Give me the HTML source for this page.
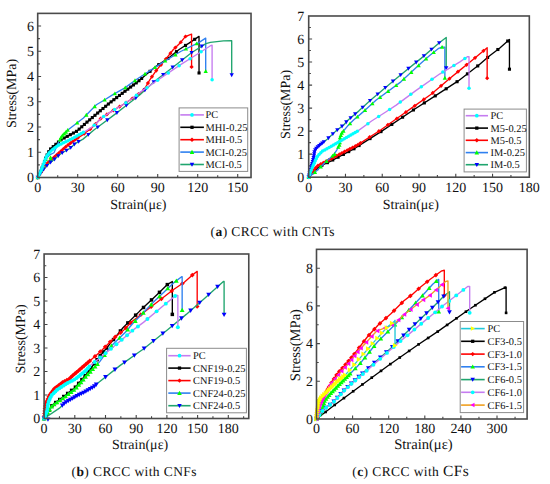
<!DOCTYPE html>
<html><head><meta charset="utf-8"><style>
html,body{margin:0;padding:0;background:#fff;}
svg{display:block;}
text{font-family:"Liberation Serif", serif;fill:#111;text-rendering:geometricPrecision;}
</style></head><body>
<svg width="550" height="484" viewBox="0 0 550 484">
<rect width="550" height="484" fill="#fff"/>
<path d="M57.70 177.50V175.30 M77.70 177.50V174.10 M97.70 177.50V175.30 M117.70 177.50V174.10 M137.70 177.50V175.30 M157.70 177.50V174.10 M177.70 177.50V175.30 M197.70 177.50V174.10 M217.70 177.50V175.30 M237.70 177.50V174.10 M37.70 164.88H39.90 M37.70 152.25H41.10 M37.70 139.62H39.90 M37.70 127.00H41.10 M37.70 114.38H39.90 M37.70 101.75H41.10 M37.70 89.12H39.90 M37.70 76.50H41.10 M37.70 63.88H39.90 M37.70 51.25H41.10 M37.70 38.62H39.90 M37.70 26.00H41.10" stroke="#444" stroke-width="1.1" fill="none"/>
<path d="M327.08 177.20V175.00 M345.47 177.20V173.80 M363.86 177.20V175.00 M382.24 177.20V173.80 M400.62 177.20V175.00 M419.01 177.20V173.80 M437.39 177.20V175.00 M455.78 177.20V173.80 M474.16 177.20V175.00 M492.55 177.20V173.80 M510.94 177.20V175.00 M308.70 165.69H310.90 M308.70 154.17H312.10 M308.70 142.65H310.90 M308.70 131.14H312.10 M308.70 119.62H310.90 M308.70 108.11H312.10 M308.70 96.59H310.90 M308.70 85.08H312.10 M308.70 73.56H310.90 M308.70 62.05H312.10 M308.70 50.53H310.90 M308.70 39.02H312.10 M308.70 27.50H310.90" stroke="#444" stroke-width="1.1" fill="none"/>
<path d="M59.45 418.50V416.30 M74.80 418.50V415.10 M90.15 418.50V416.30 M105.50 418.50V415.10 M120.85 418.50V416.30 M136.20 418.50V415.10 M151.55 418.50V416.30 M166.90 418.50V415.10 M182.25 418.50V416.30 M197.60 418.50V415.10 M212.95 418.50V416.30 M228.30 418.50V415.10 M243.65 418.50V416.30 M44.10 406.75H46.30 M44.10 395.00H47.50 M44.10 383.25H46.30 M44.10 371.50H47.50 M44.10 359.75H46.30 M44.10 348.00H47.50 M44.10 336.25H46.30 M44.10 324.50H47.50 M44.10 312.75H46.30 M44.10 301.00H47.50 M44.10 289.25H46.30 M44.10 277.50H47.50 M44.10 265.75H46.30" stroke="#444" stroke-width="1.1" fill="none"/>
<path d="M334.55 419.00V416.80 M352.60 419.00V415.60 M370.65 419.00V416.80 M388.70 419.00V415.60 M406.75 419.00V416.80 M424.81 419.00V415.60 M442.86 419.00V416.80 M460.91 419.00V415.60 M478.96 419.00V416.80 M497.01 419.00V415.60 M515.06 419.00V416.80 M316.50 400.15H318.70 M316.50 381.30H319.90 M316.50 362.45H318.70 M316.50 343.60H319.90 M316.50 324.75H318.70 M316.50 305.90H319.90 M316.50 287.05H318.70 M316.50 268.20H319.90" stroke="#444" stroke-width="1.1" fill="none"/>
<path d="M37.70 177.50 L40.37 172.45 L43.03 165.63 L45.97 157.30 L49.70 149.72 L61.17 139.62 L77.03 131.04 L87.17 121.95 L100.23 110.84 L109.57 103.01 L126.10 90.39 L137.70 81.80 L154.63 67.41 L169.57 57.31 L178.77 49.74 L189.03 43.17 L199.03 36.35 L199.03 72.97" fill="none" stroke="#000" stroke-width="1.35" stroke-linejoin="round"/>
<rect x="36.15" y="175.95" width="3.10" height="3.10" fill="#000"/>
<rect x="37.78" y="172.86" width="3.10" height="3.10" fill="#000"/>
<rect x="39.29" y="169.70" width="3.10" height="3.10" fill="#000"/>
<rect x="40.56" y="166.44" width="3.10" height="3.10" fill="#000"/>
<rect x="41.80" y="163.17" width="3.10" height="3.10" fill="#000"/>
<rect x="42.97" y="159.87" width="3.10" height="3.10" fill="#000"/>
<rect x="44.13" y="156.57" width="3.10" height="3.10" fill="#000"/>
<rect x="45.58" y="153.39" width="3.10" height="3.10" fill="#000"/>
<rect x="47.13" y="150.25" width="3.10" height="3.10" fill="#000"/>
<rect x="49.04" y="147.39" width="3.10" height="3.10" fill="#000"/>
<rect x="51.67" y="145.08" width="3.10" height="3.10" fill="#000"/>
<rect x="54.30" y="142.76" width="3.10" height="3.10" fill="#000"/>
<rect x="56.92" y="140.45" width="3.10" height="3.10" fill="#000"/>
<rect x="59.55" y="138.13" width="3.10" height="3.10" fill="#000"/>
<rect x="62.62" y="136.45" width="3.10" height="3.10" fill="#000"/>
<rect x="65.69" y="134.79" width="3.10" height="3.10" fill="#000"/>
<rect x="68.77" y="133.12" width="3.10" height="3.10" fill="#000"/>
<rect x="71.85" y="131.46" width="3.10" height="3.10" fill="#000"/>
<rect x="74.93" y="129.79" width="3.10" height="3.10" fill="#000"/>
<rect x="77.62" y="127.57" width="3.10" height="3.10" fill="#000"/>
<rect x="80.22" y="125.24" width="3.10" height="3.10" fill="#000"/>
<rect x="82.83" y="122.90" width="3.10" height="3.10" fill="#000"/>
<rect x="85.44" y="120.56" width="3.10" height="3.10" fill="#000"/>
<rect x="88.10" y="118.29" width="3.10" height="3.10" fill="#000"/>
<rect x="90.76" y="116.02" width="3.10" height="3.10" fill="#000"/>
<rect x="93.43" y="113.76" width="3.10" height="3.10" fill="#000"/>
<rect x="96.10" y="111.49" width="3.10" height="3.10" fill="#000"/>
<rect x="98.76" y="109.22" width="3.10" height="3.10" fill="#000"/>
<rect x="101.45" y="106.97" width="3.10" height="3.10" fill="#000"/>
<rect x="104.13" y="104.72" width="3.10" height="3.10" fill="#000"/>
<rect x="106.81" y="102.48" width="3.10" height="3.10" fill="#000"/>
<rect x="109.55" y="100.30" width="3.10" height="3.10" fill="#000"/>
<rect x="112.33" y="98.17" width="3.10" height="3.10" fill="#000"/>
<rect x="115.11" y="96.05" width="3.10" height="3.10" fill="#000"/>
<rect x="117.89" y="93.92" width="3.10" height="3.10" fill="#000"/>
<rect x="120.67" y="91.80" width="3.10" height="3.10" fill="#000"/>
<rect x="123.45" y="89.67" width="3.10" height="3.10" fill="#000"/>
<rect x="126.25" y="87.58" width="3.10" height="3.10" fill="#000"/>
<rect x="129.07" y="85.49" width="3.10" height="3.10" fill="#000"/>
<rect x="131.88" y="83.41" width="3.10" height="3.10" fill="#000"/>
<rect x="134.69" y="81.33" width="3.10" height="3.10" fill="#000"/>
<rect x="137.44" y="79.16" width="3.10" height="3.10" fill="#000"/>
<rect x="140.10" y="76.89" width="3.10" height="3.10" fill="#000"/>
<rect x="148.49" y="69.77" width="3.10" height="3.10" fill="#000"/>
<rect x="157.20" y="63.08" width="3.10" height="3.10" fill="#000"/>
<rect x="166.31" y="56.92" width="3.10" height="3.10" fill="#000"/>
<rect x="174.92" y="50.08" width="3.10" height="3.10" fill="#000"/>
<rect x="183.97" y="43.86" width="3.10" height="3.10" fill="#000"/>
<rect x="193.13" y="37.77" width="3.10" height="3.10" fill="#000"/>
<rect x="197.48" y="71.42" width="3.10" height="3.10" fill="#000"/>
<path d="M37.70 177.50 L41.70 171.19 L46.90 163.61 L56.90 154.78 L66.77 145.94 L74.77 139.88 L83.03 134.57 L91.43 128.26 L101.30 117.91 L114.50 109.58 L122.77 104.78 L132.77 98.22 L143.57 90.64 L149.97 79.53 L156.50 70.19 L165.83 59.08 L173.17 49.74 L180.63 42.41 L185.30 36.60 L191.57 34.08 L191.57 66.91" fill="none" stroke="#ff0000" stroke-width="1.35" stroke-linejoin="round"/>
<path d="M37.70 175.40L39.80 177.50L37.70 179.60L35.60 177.50Z" fill="#ff0000"/>
<path d="M39.31 172.87L41.41 174.97L39.31 177.07L37.21 174.97Z" fill="#ff0000"/>
<path d="M40.91 170.33L43.01 172.43L40.91 174.53L38.81 172.43Z" fill="#ff0000"/>
<path d="M42.56 167.83L44.66 169.93L42.56 172.03L40.46 169.93Z" fill="#ff0000"/>
<path d="M44.26 165.36L46.36 167.46L44.26 169.56L42.16 167.46Z" fill="#ff0000"/>
<path d="M45.96 162.88L48.06 164.98L45.96 167.08L43.86 164.98Z" fill="#ff0000"/>
<path d="M47.90 160.63L50.00 162.73L47.90 164.83L45.80 162.73Z" fill="#ff0000"/>
<path d="M50.15 158.64L52.25 160.74L50.15 162.84L48.05 160.74Z" fill="#ff0000"/>
<path d="M52.40 156.65L54.50 158.75L52.40 160.85L50.30 158.75Z" fill="#ff0000"/>
<path d="M54.65 154.67L56.75 156.77L54.65 158.87L52.55 156.77Z" fill="#ff0000"/>
<path d="M56.90 152.68L59.00 154.78L56.90 156.88L54.80 154.78Z" fill="#ff0000"/>
<path d="M59.13 150.68L61.23 152.78L59.13 154.88L57.03 152.78Z" fill="#ff0000"/>
<path d="M61.36 148.68L63.46 150.78L61.36 152.88L59.26 150.78Z" fill="#ff0000"/>
<path d="M63.60 146.67L65.70 148.77L63.60 150.87L61.50 148.77Z" fill="#ff0000"/>
<path d="M65.83 144.67L67.93 146.77L65.83 148.87L63.73 146.77Z" fill="#ff0000"/>
<path d="M68.16 142.78L70.26 144.88L68.16 146.98L66.06 144.88Z" fill="#ff0000"/>
<path d="M70.55 140.97L72.65 143.07L70.55 145.17L68.45 143.07Z" fill="#ff0000"/>
<path d="M72.94 139.16L75.04 141.26L72.94 143.36L70.84 141.26Z" fill="#ff0000"/>
<path d="M75.37 137.39L77.47 139.49L75.37 141.59L73.27 139.49Z" fill="#ff0000"/>
<path d="M77.89 135.77L79.99 137.87L77.89 139.97L75.79 137.87Z" fill="#ff0000"/>
<path d="M84.14 131.64L86.24 133.74L84.14 135.84L82.04 133.74Z" fill="#ff0000"/>
<path d="M90.14 127.13L92.24 129.23L90.14 131.33L88.04 129.23Z" fill="#ff0000"/>
<path d="M95.49 121.90L97.59 124.00L95.49 126.10L93.39 124.00Z" fill="#ff0000"/>
<path d="M100.67 116.47L102.77 118.57L100.67 120.67L98.57 118.57Z" fill="#ff0000"/>
<path d="M106.87 112.30L108.97 114.40L106.87 116.50L104.77 114.40Z" fill="#ff0000"/>
<path d="M113.21 108.29L115.31 110.39L113.21 112.49L111.11 110.39Z" fill="#ff0000"/>
<path d="M119.66 104.48L121.76 106.58L119.66 108.68L117.56 106.58Z" fill="#ff0000"/>
<path d="M126.04 100.53L128.14 102.63L126.04 104.73L123.94 102.63Z" fill="#ff0000"/>
<path d="M132.31 96.42L134.41 98.52L132.31 100.62L130.21 98.52Z" fill="#ff0000"/>
<path d="M138.46 92.12L140.56 94.22L138.46 96.32L136.36 94.22Z" fill="#ff0000"/>
<path d="M144.20 87.45L146.30 89.55L144.20 91.65L142.10 89.55Z" fill="#ff0000"/>
<path d="M147.94 80.95L150.04 83.05L147.94 85.15L145.84 83.05Z" fill="#ff0000"/>
<path d="M151.94 74.61L154.04 76.71L151.94 78.81L149.84 76.71Z" fill="#ff0000"/>
<path d="M156.24 68.47L158.34 70.57L156.24 72.67L154.14 70.57Z" fill="#ff0000"/>
<path d="M161.03 62.70L163.13 64.80L161.03 66.90L158.93 64.80Z" fill="#ff0000"/>
<path d="M165.85 56.96L167.95 59.06L165.85 61.16L163.75 59.06Z" fill="#ff0000"/>
<path d="M170.48 51.06L172.58 53.16L170.48 55.26L168.38 53.16Z" fill="#ff0000"/>
<path d="M175.42 45.43L177.52 47.53L175.42 49.63L173.32 47.53Z" fill="#ff0000"/>
<path d="M180.75 40.16L182.85 42.26L180.75 44.36L178.65 42.26Z" fill="#ff0000"/>
<path d="M185.52 34.41L187.62 36.51L185.52 38.61L183.42 36.51Z" fill="#ff0000"/>
<path d="M191.57 64.81L193.67 66.91L191.57 69.00L189.47 66.91Z" fill="#ff0000"/>
<path d="M37.70 177.50 L41.70 166.90 L45.70 159.32 L49.70 154.78 L53.97 152.75 L58.23 142.91 L61.83 136.09 L67.83 130.03 L77.30 122.71 L83.43 117.91 L89.97 111.34 L96.37 104.78 L103.97 100.23 L112.90 94.68 L124.50 88.11 L135.97 79.78 L161.97 62.86 L180.63 51.50 L199.17 42.41 L205.70 38.12 L205.70 71.20" fill="none" stroke="#2f80f0" stroke-width="1.35" stroke-linejoin="round"/>
<path d="M37.70 175.35L39.85 179.22L35.55 179.22Z" fill="#00ff00"/>
<path d="M45.77 157.10L47.92 160.97L43.62 160.97Z" fill="#00ff00"/>
<path d="M50.72 158.11L52.87 161.98L48.57 161.98Z" fill="#00ff00"/>
<path d="M50.57 155.27L52.72 159.14L48.42 159.14Z" fill="#00ff00"/>
<path d="M59.91 137.58L62.06 141.45L57.76 141.45Z" fill="#00ff00"/>
<path d="M61.08 135.37L63.23 139.24L58.93 139.24Z" fill="#00ff00"/>
<path d="M62.45 133.31L64.60 137.18L60.30 137.18Z" fill="#00ff00"/>
<path d="M64.21 131.54L66.36 135.41L62.06 135.41Z" fill="#00ff00"/>
<path d="M65.97 129.76L68.12 133.63L63.82 133.63Z" fill="#00ff00"/>
<path d="M67.73 127.98L69.88 131.85L65.58 131.85Z" fill="#00ff00"/>
<path d="M77.21 120.63L79.36 124.50L75.06 124.50Z" fill="#00ff00"/>
<path d="M86.33 112.85L88.48 116.72L84.18 116.72Z" fill="#00ff00"/>
<path d="M94.74 104.30L96.89 108.17L92.59 108.17Z" fill="#00ff00"/>
<path d="M104.66 97.66L106.81 101.53L102.51 101.53Z" fill="#00ff00"/>
<path d="M114.90 91.40L117.05 95.27L112.75 95.27Z" fill="#00ff00"/>
<path d="M125.28 85.40L127.43 89.27L123.13 89.27Z" fill="#00ff00"/>
<path d="M134.99 78.34L137.14 82.21L132.84 82.21Z" fill="#00ff00"/>
<path d="M145.01 71.75L147.16 75.62L142.86 75.62Z" fill="#00ff00"/>
<path d="M155.07 65.20L157.22 69.07L152.92 69.07Z" fill="#00ff00"/>
<path d="M165.19 58.75L167.34 62.62L163.04 62.62Z" fill="#00ff00"/>
<path d="M175.44 52.51L177.59 56.38L173.29 56.38Z" fill="#00ff00"/>
<path d="M185.95 46.75L188.10 50.62L183.80 50.62Z" fill="#00ff00"/>
<path d="M196.72 41.46L198.87 45.33L194.57 45.33Z" fill="#00ff00"/>
<path d="M205.70 69.05L207.85 72.92L203.55 72.92Z" fill="#00ff00"/>
<path d="M37.70 177.50 L43.03 169.93 L48.90 163.61 L53.97 159.82 L60.77 153.76 L69.83 148.46 L74.77 143.92 L83.03 139.12 L94.23 129.78 L101.30 124.47 L114.50 114.63 L129.43 103.01 L139.97 94.68 L154.63 81.30 L171.30 68.42 L191.83 52.51 L205.97 43.68 L210.37 42.41 L223.43 40.90 L231.70 40.65 L231.70 74.99" fill="none" stroke="#1fa56e" stroke-width="1.35" stroke-linejoin="round"/>
<path d="M37.70 179.65L39.85 175.78L35.55 175.78Z" fill="#0000ff"/>
<path d="M40.58 175.56L42.73 171.69L38.43 171.69Z" fill="#0000ff"/>
<path d="M43.53 171.54L45.68 167.67L41.38 167.67Z" fill="#0000ff"/>
<path d="M46.94 167.87L49.09 164.00L44.79 164.00Z" fill="#0000ff"/>
<path d="M50.60 164.49L52.75 160.62L48.45 160.62Z" fill="#0000ff"/>
<path d="M54.56 161.45L56.71 157.58L52.41 157.58Z" fill="#0000ff"/>
<path d="M58.29 158.12L60.44 154.25L56.14 154.25Z" fill="#0000ff"/>
<path d="M62.22 155.06L64.37 151.19L60.07 151.19Z" fill="#0000ff"/>
<path d="M66.54 152.54L68.69 148.67L64.39 148.67Z" fill="#0000ff"/>
<path d="M70.70 149.81L72.85 145.94L68.55 145.94Z" fill="#0000ff"/>
<path d="M74.38 146.42L76.53 142.55L72.23 142.55Z" fill="#0000ff"/>
<path d="M78.64 143.82L80.79 139.95L76.49 139.95Z" fill="#0000ff"/>
<path d="M88.34 136.84L90.49 132.97L86.19 132.97Z" fill="#0000ff"/>
<path d="M97.70 129.33L99.85 125.46L95.55 125.46Z" fill="#0000ff"/>
<path d="M107.31 122.14L109.46 118.27L105.16 118.27Z" fill="#0000ff"/>
<path d="M116.89 114.92L119.04 111.05L114.74 111.05Z" fill="#0000ff"/>
<path d="M126.36 107.55L128.51 103.68L124.21 103.68Z" fill="#0000ff"/>
<path d="M135.79 100.13L137.94 96.26L133.64 96.26Z" fill="#0000ff"/>
<path d="M144.90 92.33L147.05 88.46L142.75 88.46Z" fill="#0000ff"/>
<path d="M153.76 84.24L155.91 80.37L151.61 80.37Z" fill="#0000ff"/>
<path d="M163.20 76.83L165.35 72.96L161.05 72.96Z" fill="#0000ff"/>
<path d="M172.69 69.49L174.84 65.62L170.54 65.62Z" fill="#0000ff"/>
<path d="M182.18 62.14L184.33 58.27L180.03 58.27Z" fill="#0000ff"/>
<path d="M191.66 54.79L193.81 50.92L189.51 50.92Z" fill="#0000ff"/>
<path d="M201.83 48.41L203.98 44.54L199.68 44.54Z" fill="#0000ff"/>
<path d="M231.70 77.14L233.85 73.27L229.55 73.27Z" fill="#0000ff"/>
<path d="M37.70 177.50 L40.37 172.45 L43.03 165.63 L45.97 157.30 L49.03 152.75 L51.70 150.23 L58.37 145.18 L66.77 141.39 L72.10 138.62 L84.77 131.55 L91.43 127.50 L97.03 122.71 L101.30 117.91 L114.50 109.58 L122.77 104.78 L132.77 98.22 L139.97 92.41 L154.63 82.31 L180.63 64.63 L195.57 55.29 L210.10 45.95 L212.10 45.19 L212.10 79.78" fill="none" stroke="#c57cf0" stroke-width="1.35" stroke-linejoin="round"/>
<circle cx="37.70" cy="177.50" r="1.75" fill="#00ffff"/>
<circle cx="38.87" cy="175.29" r="1.75" fill="#00ffff"/>
<circle cx="40.03" cy="173.08" r="1.75" fill="#00ffff"/>
<circle cx="41.02" cy="170.78" r="1.75" fill="#00ffff"/>
<circle cx="41.93" cy="168.46" r="1.75" fill="#00ffff"/>
<circle cx="42.84" cy="166.13" r="1.75" fill="#00ffff"/>
<circle cx="43.69" cy="163.78" r="1.75" fill="#00ffff"/>
<circle cx="44.52" cy="161.42" r="1.75" fill="#00ffff"/>
<circle cx="45.35" cy="159.06" r="1.75" fill="#00ffff"/>
<circle cx="46.32" cy="156.77" r="1.75" fill="#00ffff"/>
<circle cx="47.72" cy="154.70" r="1.75" fill="#00ffff"/>
<circle cx="49.14" cy="152.65" r="1.75" fill="#00ffff"/>
<circle cx="50.96" cy="150.93" r="1.75" fill="#00ffff"/>
<circle cx="52.88" cy="149.34" r="1.75" fill="#00ffff"/>
<circle cx="54.87" cy="147.83" r="1.75" fill="#00ffff"/>
<circle cx="56.87" cy="146.32" r="1.75" fill="#00ffff"/>
<circle cx="58.93" cy="144.93" r="1.75" fill="#00ffff"/>
<circle cx="61.21" cy="143.90" r="1.75" fill="#00ffff"/>
<circle cx="63.49" cy="142.87" r="1.75" fill="#00ffff"/>
<circle cx="65.77" cy="141.84" r="1.75" fill="#00ffff"/>
<circle cx="68.01" cy="140.74" r="1.75" fill="#00ffff"/>
<circle cx="70.23" cy="139.59" r="1.75" fill="#00ffff"/>
<circle cx="72.44" cy="138.43" r="1.75" fill="#00ffff"/>
<circle cx="74.62" cy="137.21" r="1.75" fill="#00ffff"/>
<circle cx="76.81" cy="135.99" r="1.75" fill="#00ffff"/>
<circle cx="78.99" cy="134.77" r="1.75" fill="#00ffff"/>
<circle cx="81.17" cy="133.55" r="1.75" fill="#00ffff"/>
<circle cx="83.35" cy="132.33" r="1.75" fill="#00ffff"/>
<circle cx="94.16" cy="125.17" r="1.75" fill="#00ffff"/>
<circle cx="103.66" cy="116.42" r="1.75" fill="#00ffff"/>
<circle cx="114.66" cy="109.49" r="1.75" fill="#00ffff"/>
<circle cx="125.80" cy="102.79" r="1.75" fill="#00ffff"/>
<circle cx="136.40" cy="95.29" r="1.75" fill="#00ffff"/>
<circle cx="146.90" cy="87.64" r="1.75" fill="#00ffff"/>
<circle cx="157.61" cy="80.28" r="1.75" fill="#00ffff"/>
<circle cx="168.37" cy="72.97" r="1.75" fill="#00ffff"/>
<circle cx="179.12" cy="65.66" r="1.75" fill="#00ffff"/>
<circle cx="190.10" cy="58.71" r="1.75" fill="#00ffff"/>
<circle cx="201.08" cy="51.75" r="1.75" fill="#00ffff"/>
<circle cx="212.10" cy="79.78" r="1.75" fill="#00ffff"/>
<path d="M308.70 177.20 L314.83 170.29 L320.96 165.69 L329.78 161.54 L353.44 149.10 L380.65 131.83 L414.48 109.26 L434.82 96.13 L458.23 80.93 L479.19 64.81 L489.00 56.29 L499.54 48.23 L509.46 39.48 L509.46 69.19" fill="none" stroke="#000" stroke-width="1.35" stroke-linejoin="round"/>
<rect x="307.15" y="175.65" width="3.10" height="3.10" fill="#000"/>
<rect x="311.13" y="171.16" width="3.10" height="3.10" fill="#000"/>
<rect x="315.49" y="167.08" width="3.10" height="3.10" fill="#000"/>
<rect x="320.40" y="163.67" width="3.10" height="3.10" fill="#000"/>
<rect x="325.83" y="161.12" width="3.10" height="3.10" fill="#000"/>
<rect x="331.20" y="158.43" width="3.10" height="3.10" fill="#000"/>
<rect x="336.51" y="155.64" width="3.10" height="3.10" fill="#000"/>
<rect x="341.82" y="152.85" width="3.10" height="3.10" fill="#000"/>
<rect x="347.13" y="150.06" width="3.10" height="3.10" fill="#000"/>
<rect x="352.41" y="147.22" width="3.10" height="3.10" fill="#000"/>
<rect x="357.48" y="144.00" width="3.10" height="3.10" fill="#000"/>
<rect x="368.45" y="137.04" width="3.10" height="3.10" fill="#000"/>
<rect x="379.42" y="130.06" width="3.10" height="3.10" fill="#000"/>
<rect x="390.24" y="122.85" width="3.10" height="3.10" fill="#000"/>
<rect x="401.05" y="115.63" width="3.10" height="3.10" fill="#000"/>
<rect x="411.87" y="108.42" width="3.10" height="3.10" fill="#000"/>
<rect x="422.78" y="101.35" width="3.10" height="3.10" fill="#000"/>
<rect x="433.70" y="94.30" width="3.10" height="3.10" fill="#000"/>
<rect x="444.61" y="87.22" width="3.10" height="3.10" fill="#000"/>
<rect x="455.51" y="80.15" width="3.10" height="3.10" fill="#000"/>
<rect x="465.88" y="72.31" width="3.10" height="3.10" fill="#000"/>
<rect x="476.18" y="64.38" width="3.10" height="3.10" fill="#000"/>
<rect x="486.06" y="55.94" width="3.10" height="3.10" fill="#000"/>
<rect x="496.32" y="47.96" width="3.10" height="3.10" fill="#000"/>
<rect x="506.16" y="39.47" width="3.10" height="3.10" fill="#000"/>
<rect x="507.91" y="67.64" width="3.10" height="3.10" fill="#000"/>
<path d="M308.70 177.20 L313.60 170.29 L317.65 165.69 L331.99 158.32 L344.00 151.87 L357.24 145.19 L380.65 129.99 L402.46 114.56 L412.51 107.42 L431.14 94.29 L450.02 78.17 L459.95 70.11 L469.75 62.28 L479.68 53.99 L487.16 47.77 L487.16 78.17" fill="none" stroke="#ff0000" stroke-width="1.35" stroke-linejoin="round"/>
<path d="M308.70 175.10L310.80 177.20L308.70 179.30L306.60 177.20Z" fill="#ff0000"/>
<path d="M310.44 172.65L312.54 174.75L310.44 176.85L308.34 174.75Z" fill="#ff0000"/>
<path d="M312.17 170.21L314.27 172.31L312.17 174.41L310.07 172.31Z" fill="#ff0000"/>
<path d="M313.95 167.79L316.05 169.89L313.95 171.99L311.85 169.89Z" fill="#ff0000"/>
<path d="M315.93 165.54L318.03 167.64L315.93 169.74L313.83 167.64Z" fill="#ff0000"/>
<path d="M318.00 163.40L320.10 165.50L318.00 167.60L315.90 165.50Z" fill="#ff0000"/>
<path d="M320.67 162.03L322.77 164.13L320.67 166.23L318.57 164.13Z" fill="#ff0000"/>
<path d="M323.34 160.66L325.44 162.76L323.34 164.86L321.24 162.76Z" fill="#ff0000"/>
<path d="M326.01 159.29L328.11 161.39L326.01 163.49L323.91 161.39Z" fill="#ff0000"/>
<path d="M328.67 157.92L330.77 160.02L328.67 162.12L326.57 160.02Z" fill="#ff0000"/>
<path d="M331.34 156.55L333.44 158.65L331.34 160.75L329.24 158.65Z" fill="#ff0000"/>
<path d="M333.99 155.14L336.09 157.24L333.99 159.34L331.89 157.24Z" fill="#ff0000"/>
<path d="M336.64 153.72L338.74 155.82L336.64 157.92L334.54 155.82Z" fill="#ff0000"/>
<path d="M339.28 152.30L341.38 154.40L339.28 156.50L337.18 154.40Z" fill="#ff0000"/>
<path d="M341.92 150.88L344.02 152.98L341.92 155.08L339.82 152.98Z" fill="#ff0000"/>
<path d="M344.57 149.48L346.67 151.58L344.57 153.68L342.47 151.58Z" fill="#ff0000"/>
<path d="M347.25 148.13L349.35 150.23L347.25 152.33L345.15 150.23Z" fill="#ff0000"/>
<path d="M349.93 146.77L352.03 148.87L349.93 150.97L347.83 148.87Z" fill="#ff0000"/>
<path d="M352.61 145.42L354.71 147.52L352.61 149.62L350.51 147.52Z" fill="#ff0000"/>
<path d="M355.29 144.07L357.39 146.17L355.29 148.27L353.19 146.17Z" fill="#ff0000"/>
<path d="M357.92 142.64L360.02 144.74L357.92 146.84L355.82 144.74Z" fill="#ff0000"/>
<path d="M360.44 141.01L362.54 143.11L360.44 145.21L358.34 143.11Z" fill="#ff0000"/>
<path d="M369.66 135.02L371.76 137.12L369.66 139.22L367.56 137.12Z" fill="#ff0000"/>
<path d="M378.89 129.03L380.99 131.13L378.89 133.23L376.79 131.13Z" fill="#ff0000"/>
<path d="M387.92 122.75L390.02 124.85L387.92 126.95L385.82 124.85Z" fill="#ff0000"/>
<path d="M396.90 116.40L399.00 118.50L396.90 120.60L394.80 118.50Z" fill="#ff0000"/>
<path d="M405.87 110.04L407.97 112.14L405.87 114.24L403.77 112.14Z" fill="#ff0000"/>
<path d="M414.85 103.68L416.95 105.78L414.85 107.88L412.75 105.78Z" fill="#ff0000"/>
<path d="M423.84 97.34L425.94 99.44L423.84 101.54L421.74 99.44Z" fill="#ff0000"/>
<path d="M432.71 90.85L434.81 92.95L432.71 95.05L430.61 92.95Z" fill="#ff0000"/>
<path d="M441.08 83.71L443.18 85.81L441.08 87.91L438.98 85.81Z" fill="#ff0000"/>
<path d="M449.44 76.56L451.54 78.66L449.44 80.76L447.34 78.66Z" fill="#ff0000"/>
<path d="M457.97 69.62L460.07 71.72L457.97 73.82L455.87 71.72Z" fill="#ff0000"/>
<path d="M466.55 62.74L468.65 64.84L466.55 66.94L464.45 64.84Z" fill="#ff0000"/>
<path d="M475.05 55.75L477.15 57.85L475.05 59.95L472.95 57.85Z" fill="#ff0000"/>
<path d="M483.50 48.71L485.60 50.81L483.50 52.91L481.40 50.81Z" fill="#ff0000"/>
<path d="M487.16 76.07L489.26 78.17L487.16 80.27L485.06 78.17Z" fill="#ff0000"/>
<path d="M308.70 177.20 L316.42 170.98 L324.76 162.69 L333.21 155.32 L336.77 150.02 L339.83 144.04 L339.83 138.05 L341.55 133.21 L347.55 126.07 L353.56 120.09 L364.35 110.87 L376.23 100.05 L400.87 81.86 L419.50 64.58 L429.67 55.60 L438.13 48.69 L441.81 47.08 L444.87 47.08 L444.87 77.94" fill="none" stroke="#2f80f0" stroke-width="1.35" stroke-linejoin="round"/>
<path d="M308.70 175.05L310.85 178.92L306.55 178.92Z" fill="#00ff00"/>
<path d="M314.93 170.03L317.08 173.90L312.78 173.90Z" fill="#00ff00"/>
<path d="M320.74 164.54L322.89 168.41L318.59 168.41Z" fill="#00ff00"/>
<path d="M326.51 159.01L328.66 162.88L324.36 162.88Z" fill="#00ff00"/>
<path d="M332.54 153.75L334.69 157.62L330.39 157.62Z" fill="#00ff00"/>
<path d="M334.60 152.12L336.75 155.99L332.45 155.99Z" fill="#00ff00"/>
<path d="M338.24 145.00L340.39 148.87L336.09 148.87Z" fill="#00ff00"/>
<path d="M339.38 142.77L341.53 146.64L337.23 146.64Z" fill="#00ff00"/>
<path d="M339.83 140.38L341.98 144.25L337.68 144.25Z" fill="#00ff00"/>
<path d="M339.83 137.88L341.98 141.75L337.68 141.75Z" fill="#00ff00"/>
<path d="M340.01 135.41L342.16 139.28L337.86 139.28Z" fill="#00ff00"/>
<path d="M340.84 133.05L342.99 136.92L338.69 136.92Z" fill="#00ff00"/>
<path d="M341.80 130.77L343.95 134.64L339.65 134.64Z" fill="#00ff00"/>
<path d="M343.41 128.85L345.56 132.72L341.26 132.72Z" fill="#00ff00"/>
<path d="M350.07 121.41L352.22 125.28L347.92 125.28Z" fill="#00ff00"/>
<path d="M357.42 114.64L359.57 118.51L355.27 118.51Z" fill="#00ff00"/>
<path d="M365.01 108.12L367.16 111.99L362.86 111.99Z" fill="#00ff00"/>
<path d="M372.40 101.39L374.55 105.26L370.25 105.26Z" fill="#00ff00"/>
<path d="M380.11 95.04L382.26 98.91L377.96 98.91Z" fill="#00ff00"/>
<path d="M388.15 89.10L390.30 92.97L386.00 92.97Z" fill="#00ff00"/>
<path d="M396.20 83.16L398.35 87.03L394.05 87.03Z" fill="#00ff00"/>
<path d="M403.94 76.86L406.09 80.73L401.79 80.73Z" fill="#00ff00"/>
<path d="M411.28 70.06L413.43 73.93L409.13 73.93Z" fill="#00ff00"/>
<path d="M418.61 63.26L420.76 67.13L416.46 67.13Z" fill="#00ff00"/>
<path d="M426.09 56.62L428.24 60.49L423.94 60.49Z" fill="#00ff00"/>
<path d="M433.71 50.15L435.86 54.02L431.56 54.02Z" fill="#00ff00"/>
<path d="M442.09 44.93L444.24 48.80L439.94 48.80Z" fill="#00ff00"/>
<path d="M444.87 75.79L447.02 79.66L442.72 79.66Z" fill="#00ff00"/>
<path d="M308.70 177.20 L310.42 170.29 L312.74 162.00 L313.97 156.01 L314.58 151.18 L316.42 148.18 L321.20 144.04 L327.21 139.20 L335.54 131.37 L344.00 124.69 L347.55 120.55 L358.95 110.87 L370.72 100.05 L397.19 77.71 L421.34 58.13 L439.97 42.24 L446.22 37.41 L446.22 68.04" fill="none" stroke="#1fa56e" stroke-width="1.35" stroke-linejoin="round"/>
<path d="M308.70 179.35L310.85 175.48L306.55 175.48Z" fill="#0000ff"/>
<path d="M309.18 177.41L311.33 173.54L307.03 173.54Z" fill="#0000ff"/>
<path d="M309.66 175.47L311.81 171.60L307.51 171.60Z" fill="#0000ff"/>
<path d="M310.15 173.53L312.30 169.66L308.00 169.66Z" fill="#0000ff"/>
<path d="M310.65 171.59L312.80 167.72L308.50 167.72Z" fill="#0000ff"/>
<path d="M311.20 169.67L313.35 165.80L309.05 165.80Z" fill="#0000ff"/>
<path d="M311.74 167.74L313.89 163.87L309.59 163.87Z" fill="#0000ff"/>
<path d="M312.28 165.82L314.43 161.95L310.13 161.95Z" fill="#0000ff"/>
<path d="M312.80 163.89L314.95 160.02L310.65 160.02Z" fill="#0000ff"/>
<path d="M313.20 161.93L315.35 158.06L311.05 158.06Z" fill="#0000ff"/>
<path d="M313.60 159.97L315.75 156.10L311.45 156.10Z" fill="#0000ff"/>
<path d="M313.99 158.01L316.14 154.14L311.84 154.14Z" fill="#0000ff"/>
<path d="M314.24 156.02L316.39 152.15L312.09 152.15Z" fill="#0000ff"/>
<path d="M314.49 154.04L316.64 150.17L312.34 150.17Z" fill="#0000ff"/>
<path d="M315.25 152.23L317.40 148.36L313.10 148.36Z" fill="#0000ff"/>
<path d="M316.30 150.53L318.45 146.66L314.15 146.66Z" fill="#0000ff"/>
<path d="M317.76 149.17L319.91 145.30L315.61 145.30Z" fill="#0000ff"/>
<path d="M319.27 147.86L321.42 143.99L317.12 143.99Z" fill="#0000ff"/>
<path d="M320.78 146.55L322.93 142.68L318.63 142.68Z" fill="#0000ff"/>
<path d="M322.32 145.28L324.47 141.41L320.17 141.41Z" fill="#0000ff"/>
<path d="M323.88 144.03L326.03 140.16L321.73 140.16Z" fill="#0000ff"/>
<path d="M328.47 140.17L330.62 136.30L326.32 136.30Z" fill="#0000ff"/>
<path d="M332.84 136.06L334.99 132.19L330.69 132.19Z" fill="#0000ff"/>
<path d="M337.34 132.10L339.49 128.23L335.19 128.23Z" fill="#0000ff"/>
<path d="M342.05 128.38L344.20 124.51L339.90 124.51Z" fill="#0000ff"/>
<path d="M346.29 124.17L348.44 120.30L344.14 120.30Z" fill="#0000ff"/>
<path d="M350.65 120.07L352.80 116.20L348.50 116.20Z" fill="#0000ff"/>
<path d="M355.22 116.19L357.37 112.32L353.07 112.32Z" fill="#0000ff"/>
<path d="M362.71 109.56L364.86 105.69L360.56 105.69Z" fill="#0000ff"/>
<path d="M370.07 102.79L372.22 98.92L367.92 98.92Z" fill="#0000ff"/>
<path d="M377.69 96.32L379.84 92.45L375.54 92.45Z" fill="#0000ff"/>
<path d="M385.33 89.87L387.48 86.00L383.18 86.00Z" fill="#0000ff"/>
<path d="M392.98 83.42L395.13 79.55L390.83 79.55Z" fill="#0000ff"/>
<path d="M400.67 77.04L402.82 73.17L398.52 73.17Z" fill="#0000ff"/>
<path d="M408.44 70.74L410.59 66.87L406.29 66.87Z" fill="#0000ff"/>
<path d="M416.21 64.44L418.36 60.57L414.06 60.57Z" fill="#0000ff"/>
<path d="M423.92 58.08L426.07 54.21L421.77 54.21Z" fill="#0000ff"/>
<path d="M431.53 51.59L433.68 47.72L429.38 47.72Z" fill="#0000ff"/>
<path d="M439.14 45.10L441.29 41.23L436.99 41.23Z" fill="#0000ff"/>
<path d="M446.22 70.19L448.37 66.32L444.07 66.32Z" fill="#0000ff"/>
<path d="M308.70 177.20 L310.17 172.59 L311.64 169.14 L313.60 164.53 L315.20 160.85 L317.65 156.01 L322.43 151.18 L331.99 145.88 L341.55 140.35 L350.00 135.52 L357.97 130.91 L371.58 121.01 L386.16 111.79 L396.21 105.12 L415.82 90.61 L439.97 73.80 L459.95 61.82 L467.30 56.75 L469.02 56.75 L469.02 88.30" fill="none" stroke="#c57cf0" stroke-width="1.35" stroke-linejoin="round"/>
<circle cx="308.70" cy="177.20" r="1.75" fill="#00ffff"/>
<circle cx="309.46" cy="174.82" r="1.75" fill="#00ffff"/>
<circle cx="310.24" cy="172.44" r="1.75" fill="#00ffff"/>
<circle cx="311.21" cy="170.14" r="1.75" fill="#00ffff"/>
<circle cx="312.19" cy="167.84" r="1.75" fill="#00ffff"/>
<circle cx="313.17" cy="165.54" r="1.75" fill="#00ffff"/>
<circle cx="314.16" cy="163.24" r="1.75" fill="#00ffff"/>
<circle cx="315.15" cy="160.95" r="1.75" fill="#00ffff"/>
<circle cx="316.28" cy="158.72" r="1.75" fill="#00ffff"/>
<circle cx="317.41" cy="156.49" r="1.75" fill="#00ffff"/>
<circle cx="319.03" cy="154.61" r="1.75" fill="#00ffff"/>
<circle cx="320.79" cy="152.83" r="1.75" fill="#00ffff"/>
<circle cx="322.57" cy="151.09" r="1.75" fill="#00ffff"/>
<circle cx="324.76" cy="149.88" r="1.75" fill="#00ffff"/>
<circle cx="326.95" cy="148.67" r="1.75" fill="#00ffff"/>
<circle cx="329.13" cy="147.46" r="1.75" fill="#00ffff"/>
<circle cx="331.32" cy="146.25" r="1.75" fill="#00ffff"/>
<circle cx="333.49" cy="145.01" r="1.75" fill="#00ffff"/>
<circle cx="335.66" cy="143.76" r="1.75" fill="#00ffff"/>
<circle cx="337.82" cy="142.51" r="1.75" fill="#00ffff"/>
<circle cx="339.99" cy="141.26" r="1.75" fill="#00ffff"/>
<circle cx="342.15" cy="140.01" r="1.75" fill="#00ffff"/>
<circle cx="344.32" cy="138.77" r="1.75" fill="#00ffff"/>
<circle cx="346.49" cy="137.52" r="1.75" fill="#00ffff"/>
<circle cx="348.66" cy="136.28" r="1.75" fill="#00ffff"/>
<circle cx="350.83" cy="135.04" r="1.75" fill="#00ffff"/>
<circle cx="352.99" cy="133.79" r="1.75" fill="#00ffff"/>
<circle cx="355.16" cy="132.54" r="1.75" fill="#00ffff"/>
<circle cx="357.32" cy="131.28" r="1.75" fill="#00ffff"/>
<circle cx="367.88" cy="123.70" r="1.75" fill="#00ffff"/>
<circle cx="378.70" cy="116.51" r="1.75" fill="#00ffff"/>
<circle cx="389.64" cy="109.49" r="1.75" fill="#00ffff"/>
<circle cx="400.32" cy="102.08" r="1.75" fill="#00ffff"/>
<circle cx="410.77" cy="94.35" r="1.75" fill="#00ffff"/>
<circle cx="421.33" cy="86.77" r="1.75" fill="#00ffff"/>
<circle cx="432.00" cy="79.34" r="1.75" fill="#00ffff"/>
<circle cx="442.79" cy="72.10" r="1.75" fill="#00ffff"/>
<circle cx="453.94" cy="65.42" r="1.75" fill="#00ffff"/>
<circle cx="464.88" cy="58.42" r="1.75" fill="#00ffff"/>
<circle cx="469.02" cy="88.30" r="1.75" fill="#00ffff"/>
<path d="M44.10 418.50 L52.29 405.11 L64.77 395.70 L75.00 387.71 L87.08 373.38 L97.93 358.57 L109.18 344.94 L123.00 327.79 L139.68 311.11 L158.30 293.48 L167.62 284.31 L172.32 281.50 L172.32 314.39" fill="none" stroke="#000" stroke-width="1.35" stroke-linejoin="round"/>
<rect x="42.36" y="416.76" width="3.47" height="3.47" fill="#000"/>
<rect x="44.97" y="412.50" width="3.47" height="3.47" fill="#000"/>
<rect x="47.58" y="408.23" width="3.47" height="3.47" fill="#000"/>
<rect x="50.19" y="403.97" width="3.47" height="3.47" fill="#000"/>
<rect x="53.99" y="400.78" width="3.47" height="3.47" fill="#000"/>
<rect x="57.98" y="397.77" width="3.47" height="3.47" fill="#000"/>
<rect x="61.98" y="394.77" width="3.47" height="3.47" fill="#000"/>
<rect x="65.93" y="391.71" width="3.47" height="3.47" fill="#000"/>
<rect x="69.87" y="388.63" width="3.47" height="3.47" fill="#000"/>
<rect x="73.71" y="385.45" width="3.47" height="3.47" fill="#000"/>
<rect x="76.93" y="381.63" width="3.47" height="3.47" fill="#000"/>
<rect x="80.16" y="377.80" width="3.47" height="3.47" fill="#000"/>
<rect x="83.38" y="373.98" width="3.47" height="3.47" fill="#000"/>
<rect x="86.49" y="370.07" width="3.47" height="3.47" fill="#000"/>
<rect x="89.45" y="366.04" width="3.47" height="3.47" fill="#000"/>
<rect x="92.41" y="362.01" width="3.47" height="3.47" fill="#000"/>
<rect x="95.36" y="357.97" width="3.47" height="3.47" fill="#000"/>
<rect x="98.48" y="354.07" width="3.47" height="3.47" fill="#000"/>
<rect x="101.66" y="350.21" width="3.47" height="3.47" fill="#000"/>
<rect x="104.85" y="346.36" width="3.47" height="3.47" fill="#000"/>
<rect x="111.79" y="337.82" width="3.47" height="3.47" fill="#000"/>
<rect x="118.69" y="329.25" width="3.47" height="3.47" fill="#000"/>
<rect x="126.13" y="321.18" width="3.47" height="3.47" fill="#000"/>
<rect x="133.91" y="313.40" width="3.47" height="3.47" fill="#000"/>
<rect x="141.79" y="305.73" width="3.47" height="3.47" fill="#000"/>
<rect x="149.78" y="298.17" width="3.47" height="3.47" fill="#000"/>
<rect x="157.75" y="290.58" width="3.47" height="3.47" fill="#000"/>
<rect x="165.59" y="282.87" width="3.47" height="3.47" fill="#000"/>
<rect x="170.59" y="312.66" width="3.47" height="3.47" fill="#000"/>
<path d="M44.10 418.50 L45.02 408.16 L45.63 404.17 L49.22 395.70 L54.33 388.65 L62.62 382.31 L68.86 379.25 L71.93 376.20 L78.07 371.03 L86.77 363.51 L99.77 352.23 L114.61 337.43 L123.92 329.90 L132.31 321.21 L152.78 305.47 L173.24 289.72 L184.30 282.20 L193.61 273.98 L197.19 271.39 L197.19 306.41" fill="none" stroke="#ff0000" stroke-width="1.35" stroke-linejoin="round"/>
<path d="M44.10 416.15L46.45 418.50L44.10 420.85L41.75 418.50Z" fill="#ff0000"/>
<path d="M44.32 413.66L46.67 416.01L44.32 418.36L41.97 416.01Z" fill="#ff0000"/>
<path d="M44.54 411.17L46.90 413.52L44.54 415.87L42.19 413.52Z" fill="#ff0000"/>
<path d="M44.77 408.68L47.12 411.03L44.77 413.38L42.41 411.03Z" fill="#ff0000"/>
<path d="M44.99 406.19L47.34 408.54L44.99 410.89L42.64 408.54Z" fill="#ff0000"/>
<path d="M45.34 403.71L47.69 406.07L45.34 408.42L42.99 406.07Z" fill="#ff0000"/>
<path d="M45.86 401.28L48.21 403.63L45.86 405.99L43.51 403.63Z" fill="#ff0000"/>
<path d="M46.83 398.98L49.19 401.33L46.83 403.68L44.48 401.33Z" fill="#ff0000"/>
<path d="M47.81 396.68L50.16 399.03L47.81 401.38L45.46 399.03Z" fill="#ff0000"/>
<path d="M48.78 394.37L51.14 396.73L48.78 399.08L46.43 396.73Z" fill="#ff0000"/>
<path d="M50.03 392.23L52.39 394.58L50.03 396.93L47.68 394.58Z" fill="#ff0000"/>
<path d="M51.50 390.20L53.85 392.56L51.50 394.91L49.15 392.56Z" fill="#ff0000"/>
<path d="M52.97 388.18L55.32 390.53L52.97 392.89L50.62 390.53Z" fill="#ff0000"/>
<path d="M54.48 386.19L56.83 388.55L54.48 390.90L52.12 388.55Z" fill="#ff0000"/>
<path d="M56.46 384.67L58.81 387.03L56.46 389.38L54.11 387.03Z" fill="#ff0000"/>
<path d="M58.45 383.15L60.80 385.51L58.45 387.86L56.09 385.51Z" fill="#ff0000"/>
<path d="M60.43 381.64L62.78 383.99L60.43 386.34L58.08 383.99Z" fill="#ff0000"/>
<path d="M62.42 380.12L64.77 382.47L62.42 384.82L60.06 382.47Z" fill="#ff0000"/>
<path d="M64.63 378.97L66.99 381.33L64.63 383.68L62.28 381.33Z" fill="#ff0000"/>
<path d="M66.88 377.87L69.23 380.23L66.88 382.58L64.53 380.23Z" fill="#ff0000"/>
<path d="M69.07 376.70L71.42 379.05L69.07 381.40L66.72 379.05Z" fill="#ff0000"/>
<path d="M70.84 374.93L73.19 377.29L70.84 379.64L68.49 377.29Z" fill="#ff0000"/>
<path d="M72.67 373.23L75.02 375.58L72.67 377.93L70.32 375.58Z" fill="#ff0000"/>
<path d="M74.58 371.62L76.93 373.97L74.58 376.32L72.23 373.97Z" fill="#ff0000"/>
<path d="M76.49 370.01L78.85 372.36L76.49 374.71L74.14 372.36Z" fill="#ff0000"/>
<path d="M78.40 368.39L80.75 370.75L78.40 373.10L76.05 370.75Z" fill="#ff0000"/>
<path d="M80.29 366.76L82.65 369.11L80.29 371.46L77.94 369.11Z" fill="#ff0000"/>
<path d="M82.18 365.12L84.54 367.48L82.18 369.83L79.83 367.48Z" fill="#ff0000"/>
<path d="M84.08 363.49L86.43 365.84L84.08 368.19L81.72 365.84Z" fill="#ff0000"/>
<path d="M85.97 361.85L88.32 364.21L85.97 366.56L83.61 364.21Z" fill="#ff0000"/>
<path d="M87.86 360.22L90.21 362.57L87.86 364.92L85.50 362.57Z" fill="#ff0000"/>
<path d="M89.74 358.58L92.10 360.93L89.74 363.28L87.39 360.93Z" fill="#ff0000"/>
<path d="M95.03 353.99L97.38 356.34L95.03 358.69L92.68 356.34Z" fill="#ff0000"/>
<path d="M100.28 349.37L102.64 351.72L100.28 354.07L97.93 351.72Z" fill="#ff0000"/>
<path d="M105.24 344.42L107.59 346.77L105.24 349.13L102.89 346.77Z" fill="#ff0000"/>
<path d="M110.19 339.48L112.55 341.83L110.19 344.18L107.84 341.83Z" fill="#ff0000"/>
<path d="M115.20 334.59L117.55 336.94L115.20 339.30L112.85 336.94Z" fill="#ff0000"/>
<path d="M120.65 330.19L123.00 332.55L120.65 334.90L118.30 332.55Z" fill="#ff0000"/>
<path d="M125.86 325.54L128.21 327.89L125.86 330.25L123.51 327.89Z" fill="#ff0000"/>
<path d="M130.72 320.50L133.07 322.86L130.72 325.21L128.37 322.86Z" fill="#ff0000"/>
<path d="M140.80 312.33L143.15 314.68L140.80 317.03L138.45 314.68Z" fill="#ff0000"/>
<path d="M151.10 304.40L153.46 306.75L151.10 309.10L148.75 306.75Z" fill="#ff0000"/>
<path d="M161.41 296.47L163.76 298.83L161.41 301.18L159.06 298.83Z" fill="#ff0000"/>
<path d="M171.71 288.55L174.06 290.90L171.71 293.25L169.36 290.90Z" fill="#ff0000"/>
<path d="M182.39 281.14L184.75 283.49L182.39 285.85L180.04 283.49Z" fill="#ff0000"/>
<path d="M192.32 272.77L194.67 275.12L192.32 277.47L189.96 275.12Z" fill="#ff0000"/>
<path d="M197.19 304.05L199.54 306.41L197.19 308.76L194.84 306.41Z" fill="#ff0000"/>
<path d="M44.10 418.50 L52.29 405.57 L64.77 396.88 L75.00 389.12 L86.77 375.50 L99.77 361.63 L110.00 347.30 L125.86 331.78 L132.31 324.03 L154.62 301.00 L173.24 283.14 L181.64 276.79 L182.15 276.79 L182.15 310.16" fill="none" stroke="#2f80f0" stroke-width="1.35" stroke-linejoin="round"/>
<path d="M44.10 416.09L46.51 420.43L41.69 420.43Z" fill="#00ff00"/>
<path d="M45.97 413.14L48.38 417.47L43.56 417.47Z" fill="#00ff00"/>
<path d="M47.85 410.18L50.25 414.51L45.44 414.51Z" fill="#00ff00"/>
<path d="M49.72 407.22L52.13 411.56L47.31 411.56Z" fill="#00ff00"/>
<path d="M51.59 404.26L54.00 408.60L49.18 408.60Z" fill="#00ff00"/>
<path d="M54.09 401.91L56.50 406.24L51.68 406.24Z" fill="#00ff00"/>
<path d="M56.96 399.91L59.37 404.24L54.56 404.24Z" fill="#00ff00"/>
<path d="M59.84 397.91L62.24 402.24L57.43 402.24Z" fill="#00ff00"/>
<path d="M62.71 395.91L65.12 400.24L60.30 400.24Z" fill="#00ff00"/>
<path d="M65.56 393.88L67.97 398.21L63.15 398.21Z" fill="#00ff00"/>
<path d="M68.35 391.76L70.75 396.10L65.94 396.10Z" fill="#00ff00"/>
<path d="M71.14 389.65L73.54 393.98L68.73 393.98Z" fill="#00ff00"/>
<path d="M73.93 387.53L76.33 391.87L71.52 391.87Z" fill="#00ff00"/>
<path d="M76.41 385.09L78.82 389.43L74.00 389.43Z" fill="#00ff00"/>
<path d="M78.69 382.44L81.10 386.78L76.29 386.78Z" fill="#00ff00"/>
<path d="M80.98 379.79L83.39 384.13L78.57 384.13Z" fill="#00ff00"/>
<path d="M83.27 377.14L85.68 381.48L80.86 381.48Z" fill="#00ff00"/>
<path d="M85.56 374.50L87.96 378.83L83.15 378.83Z" fill="#00ff00"/>
<path d="M87.89 371.89L90.30 376.23L85.49 376.23Z" fill="#00ff00"/>
<path d="M90.29 369.34L92.70 373.67L87.88 373.67Z" fill="#00ff00"/>
<path d="M92.68 366.78L95.09 371.12L90.27 371.12Z" fill="#00ff00"/>
<path d="M95.07 364.23L97.48 368.56L92.67 368.56Z" fill="#00ff00"/>
<path d="M97.47 361.68L99.88 366.01L95.06 366.01Z" fill="#00ff00"/>
<path d="M104.50 352.60L106.90 356.94L102.09 356.94Z" fill="#00ff00"/>
<path d="M111.45 343.47L113.86 347.81L109.04 347.81Z" fill="#00ff00"/>
<path d="M119.67 335.43L122.08 339.77L117.26 339.77Z" fill="#00ff00"/>
<path d="M127.68 327.19L130.09 331.53L125.27 331.53Z" fill="#00ff00"/>
<path d="M135.27 318.57L137.68 322.90L132.86 322.90Z" fill="#00ff00"/>
<path d="M143.27 310.31L145.68 314.64L140.86 314.64Z" fill="#00ff00"/>
<path d="M151.27 302.05L153.68 306.38L148.87 306.38Z" fill="#00ff00"/>
<path d="M159.45 293.96L161.86 298.30L157.04 298.30Z" fill="#00ff00"/>
<path d="M167.75 286.00L170.16 290.34L165.34 290.34Z" fill="#00ff00"/>
<path d="M176.34 278.39L178.75 282.72L173.94 282.72Z" fill="#00ff00"/>
<path d="M182.15 307.76L184.56 312.09L179.74 312.09Z" fill="#00ff00"/>
<path d="M44.10 418.50 L59.45 408.16 L64.77 402.99 L75.00 396.88 L85.34 391.71 L94.04 386.54 L97.93 383.01 L120.24 365.39 L138.76 352.23 L143.47 348.94 L167.62 329.67 L186.24 314.39 L204.76 298.18 L223.39 281.50 L224.10 281.50 L224.10 314.63" fill="none" stroke="#1fa56e" stroke-width="1.35" stroke-linejoin="round"/>
<path d="M44.10 420.91L46.51 416.57L41.69 416.57Z" fill="#0000ff"/>
<path d="M47.97 421.72L50.38 417.39L45.56 417.39Z" fill="#0000ff"/>
<path d="M62.31 407.79L64.72 403.45L59.91 403.45Z" fill="#0000ff"/>
<path d="M64.11 406.04L66.51 401.71L61.70 401.71Z" fill="#0000ff"/>
<path d="M66.12 404.59L68.53 400.26L63.71 400.26Z" fill="#0000ff"/>
<path d="M68.27 403.31L70.68 398.98L65.86 398.98Z" fill="#0000ff"/>
<path d="M70.41 402.03L72.82 397.69L68.01 397.69Z" fill="#0000ff"/>
<path d="M72.56 400.75L74.97 396.41L70.15 396.41Z" fill="#0000ff"/>
<path d="M74.71 399.47L77.12 395.13L72.30 395.13Z" fill="#0000ff"/>
<path d="M76.93 398.32L79.34 393.99L74.52 393.99Z" fill="#0000ff"/>
<path d="M79.17 397.21L81.58 392.87L76.76 392.87Z" fill="#0000ff"/>
<path d="M81.40 396.09L83.81 391.75L79.00 391.75Z" fill="#0000ff"/>
<path d="M83.64 394.97L86.05 390.63L81.23 390.63Z" fill="#0000ff"/>
<path d="M85.85 393.81L88.26 389.48L83.45 389.48Z" fill="#0000ff"/>
<path d="M88.00 392.54L90.41 388.20L85.60 388.20Z" fill="#0000ff"/>
<path d="M90.15 391.26L92.56 386.92L87.74 386.92Z" fill="#0000ff"/>
<path d="M92.30 389.98L94.71 385.65L89.89 385.65Z" fill="#0000ff"/>
<path d="M94.39 388.63L96.80 384.29L91.99 384.29Z" fill="#0000ff"/>
<path d="M96.25 386.95L98.65 382.61L93.84 382.61Z" fill="#0000ff"/>
<path d="M105.56 379.39L107.97 375.06L103.15 375.06Z" fill="#0000ff"/>
<path d="M114.98 371.95L117.39 367.62L112.57 367.62Z" fill="#0000ff"/>
<path d="M124.56 364.73L126.96 360.39L122.15 360.39Z" fill="#0000ff"/>
<path d="M134.34 357.78L136.75 353.44L131.93 353.44Z" fill="#0000ff"/>
<path d="M144.12 350.83L146.53 346.49L141.71 346.49Z" fill="#0000ff"/>
<path d="M153.50 343.34L155.91 339.01L151.09 339.01Z" fill="#0000ff"/>
<path d="M162.88 335.86L165.29 331.52L160.47 331.52Z" fill="#0000ff"/>
<path d="M172.21 328.31L174.62 323.98L169.80 323.98Z" fill="#0000ff"/>
<path d="M181.49 320.70L183.89 316.37L179.08 316.37Z" fill="#0000ff"/>
<path d="M190.64 312.95L193.05 308.61L188.24 308.61Z" fill="#0000ff"/>
<path d="M199.67 305.04L202.08 300.71L197.26 300.71Z" fill="#0000ff"/>
<path d="M208.66 297.10L211.07 292.76L206.25 292.76Z" fill="#0000ff"/>
<path d="M217.60 289.09L220.01 284.75L215.19 284.75Z" fill="#0000ff"/>
<path d="M224.10 317.04L226.51 312.70L221.70 312.70Z" fill="#0000ff"/>
<path d="M44.10 418.50 L47.07 411.21 L48.09 402.99 L51.16 395.70 L57.40 389.60 L66.72 383.49 L75.00 379.25 L85.34 371.03 L90.46 365.39 L111.03 348.70 L117.37 343.53 L133.23 329.90 L143.47 322.38 L164.75 304.52 L176.01 295.36 L177.85 295.36 L177.85 327.32" fill="none" stroke="#c57cf0" stroke-width="1.35" stroke-linejoin="round"/>
<circle cx="44.10" cy="418.50" r="1.96" fill="#00ffff"/>
<circle cx="45.04" cy="416.18" r="1.96" fill="#00ffff"/>
<circle cx="45.99" cy="413.87" r="1.96" fill="#00ffff"/>
<circle cx="46.93" cy="411.55" r="1.96" fill="#00ffff"/>
<circle cx="47.33" cy="409.10" r="1.96" fill="#00ffff"/>
<circle cx="47.64" cy="406.62" r="1.96" fill="#00ffff"/>
<circle cx="47.95" cy="404.14" r="1.96" fill="#00ffff"/>
<circle cx="48.61" cy="401.75" r="1.96" fill="#00ffff"/>
<circle cx="49.58" cy="399.45" r="1.96" fill="#00ffff"/>
<circle cx="50.56" cy="397.14" r="1.96" fill="#00ffff"/>
<circle cx="51.83" cy="395.05" r="1.96" fill="#00ffff"/>
<circle cx="53.62" cy="393.30" r="1.96" fill="#00ffff"/>
<circle cx="55.41" cy="391.55" r="1.96" fill="#00ffff"/>
<circle cx="57.19" cy="389.80" r="1.96" fill="#00ffff"/>
<circle cx="59.25" cy="388.39" r="1.96" fill="#00ffff"/>
<circle cx="61.34" cy="387.01" r="1.96" fill="#00ffff"/>
<circle cx="63.43" cy="385.64" r="1.96" fill="#00ffff"/>
<circle cx="65.52" cy="384.27" r="1.96" fill="#00ffff"/>
<circle cx="67.67" cy="383.00" r="1.96" fill="#00ffff"/>
<circle cx="69.89" cy="381.86" r="1.96" fill="#00ffff"/>
<circle cx="72.12" cy="380.73" r="1.96" fill="#00ffff"/>
<circle cx="74.35" cy="379.59" r="1.96" fill="#00ffff"/>
<circle cx="76.38" cy="378.16" r="1.96" fill="#00ffff"/>
<circle cx="78.34" cy="376.60" r="1.96" fill="#00ffff"/>
<circle cx="80.30" cy="375.04" r="1.96" fill="#00ffff"/>
<circle cx="82.25" cy="373.49" r="1.96" fill="#00ffff"/>
<circle cx="84.21" cy="371.93" r="1.96" fill="#00ffff"/>
<circle cx="86.05" cy="370.25" r="1.96" fill="#00ffff"/>
<circle cx="87.73" cy="368.40" r="1.96" fill="#00ffff"/>
<circle cx="89.41" cy="366.55" r="1.96" fill="#00ffff"/>
<circle cx="94.68" cy="361.96" r="1.96" fill="#00ffff"/>
<circle cx="100.12" cy="357.55" r="1.96" fill="#00ffff"/>
<circle cx="105.55" cy="353.15" r="1.96" fill="#00ffff"/>
<circle cx="110.99" cy="348.74" r="1.96" fill="#00ffff"/>
<circle cx="116.42" cy="344.31" r="1.96" fill="#00ffff"/>
<circle cx="121.74" cy="339.78" r="1.96" fill="#00ffff"/>
<circle cx="127.05" cy="335.21" r="1.96" fill="#00ffff"/>
<circle cx="132.36" cy="330.65" r="1.96" fill="#00ffff"/>
<circle cx="137.95" cy="326.44" r="1.96" fill="#00ffff"/>
<circle cx="147.41" cy="319.07" r="1.96" fill="#00ffff"/>
<circle cx="156.61" cy="311.36" r="1.96" fill="#00ffff"/>
<circle cx="165.81" cy="303.66" r="1.96" fill="#00ffff"/>
<circle cx="175.12" cy="296.08" r="1.96" fill="#00ffff"/>
<circle cx="177.85" cy="327.32" r="1.96" fill="#00ffff"/>
<path d="M316.50 419.00 L334.55 405.05 L363.13 383.94 L388.70 365.28 L416.92 345.49 L438.34 331.16 L466.08 311.56 L494.48 292.33 L506.10 287.24 L506.10 312.87" fill="none" stroke="#000" stroke-width="1.35" stroke-linejoin="round"/>
<rect x="315.18" y="417.68" width="2.63" height="2.63" fill="#000"/>
<rect x="324.28" y="410.65" width="2.63" height="2.63" fill="#000"/>
<rect x="333.38" y="403.62" width="2.63" height="2.63" fill="#000"/>
<rect x="342.63" y="396.79" width="2.63" height="2.63" fill="#000"/>
<rect x="351.88" y="389.96" width="2.63" height="2.63" fill="#000"/>
<rect x="361.13" y="383.12" width="2.63" height="2.63" fill="#000"/>
<rect x="370.42" y="376.34" width="2.63" height="2.63" fill="#000"/>
<rect x="379.71" y="369.56" width="2.63" height="2.63" fill="#000"/>
<rect x="389.02" y="362.81" width="2.63" height="2.63" fill="#000"/>
<rect x="398.44" y="356.21" width="2.63" height="2.63" fill="#000"/>
<rect x="407.85" y="349.61" width="2.63" height="2.63" fill="#000"/>
<rect x="417.29" y="343.04" width="2.63" height="2.63" fill="#000"/>
<rect x="426.85" y="336.65" width="2.63" height="2.63" fill="#000"/>
<rect x="436.41" y="330.25" width="2.63" height="2.63" fill="#000"/>
<rect x="445.81" y="323.63" width="2.63" height="2.63" fill="#000"/>
<rect x="455.20" y="316.99" width="2.63" height="2.63" fill="#000"/>
<rect x="464.60" y="310.36" width="2.63" height="2.63" fill="#000"/>
<rect x="474.12" y="303.91" width="2.63" height="2.63" fill="#000"/>
<rect x="483.64" y="297.46" width="2.63" height="2.63" fill="#000"/>
<rect x="493.16" y="291.01" width="2.63" height="2.63" fill="#000"/>
<rect x="503.69" y="286.40" width="2.63" height="2.63" fill="#000"/>
<rect x="504.78" y="311.56" width="2.63" height="2.63" fill="#000"/>
<path d="M316.50 419.00 L317.10 411.46 L318.31 406.75 L321.01 401.66 L325.89 392.61 L330.52 384.13 L337.68 373.19 L344.90 365.28 L352.12 356.80 L367.28 337.00 L378.41 324.75 L390.87 313.82 L403.93 300.81 L412.29 294.40 L420.59 287.05 L429.92 279.51 L441.11 271.22 L444.30 270.27 L444.30 295.53" fill="none" stroke="#ff0000" stroke-width="1.35" stroke-linejoin="round"/>
<path d="M316.50 416.69L318.81 419.00L316.50 421.31L314.19 419.00Z" fill="#ff0000"/>
<path d="M316.68 414.50L318.99 416.81L316.68 419.12L314.37 416.81Z" fill="#ff0000"/>
<path d="M316.85 412.30L319.16 414.61L316.85 416.92L314.54 414.61Z" fill="#ff0000"/>
<path d="M317.03 410.11L319.34 412.42L317.03 414.73L314.72 412.42Z" fill="#ff0000"/>
<path d="M317.41 407.95L319.72 410.26L317.41 412.57L315.10 410.26Z" fill="#ff0000"/>
<path d="M317.95 405.82L320.26 408.13L317.95 410.44L315.64 408.13Z" fill="#ff0000"/>
<path d="M318.67 403.76L320.98 406.07L318.67 408.38L316.36 406.07Z" fill="#ff0000"/>
<path d="M319.70 401.81L322.01 404.12L319.70 406.43L317.39 404.12Z" fill="#ff0000"/>
<path d="M320.73 399.87L323.04 402.18L320.73 404.49L318.42 402.18Z" fill="#ff0000"/>
<path d="M321.78 397.93L324.09 400.24L321.78 402.55L319.47 400.24Z" fill="#ff0000"/>
<path d="M322.82 396.00L325.13 398.31L322.82 400.62L320.51 398.31Z" fill="#ff0000"/>
<path d="M323.86 394.06L326.17 396.37L323.86 398.68L321.55 396.37Z" fill="#ff0000"/>
<path d="M324.90 392.12L327.21 394.43L324.90 396.74L322.59 394.43Z" fill="#ff0000"/>
<path d="M325.95 390.19L328.26 392.50L325.95 394.81L323.64 392.50Z" fill="#ff0000"/>
<path d="M327.00 388.25L329.31 390.56L327.00 392.87L324.69 390.56Z" fill="#ff0000"/>
<path d="M328.06 386.32L330.37 388.63L328.06 390.94L325.75 388.63Z" fill="#ff0000"/>
<path d="M329.11 384.39L331.42 386.70L329.11 389.01L326.80 386.70Z" fill="#ff0000"/>
<path d="M331.43 380.42L333.74 382.73L331.43 385.04L329.12 382.73Z" fill="#ff0000"/>
<path d="M333.95 376.58L336.26 378.89L333.95 381.20L331.64 378.89Z" fill="#ff0000"/>
<path d="M336.47 372.73L338.78 375.04L336.47 377.35L334.16 375.04Z" fill="#ff0000"/>
<path d="M339.29 369.11L341.60 371.42L339.29 373.73L336.98 371.42Z" fill="#ff0000"/>
<path d="M342.39 365.72L344.70 368.03L342.39 370.34L340.08 368.03Z" fill="#ff0000"/>
<path d="M345.47 362.30L347.78 364.61L345.47 366.92L343.16 364.61Z" fill="#ff0000"/>
<path d="M348.45 358.79L350.76 361.10L348.45 363.41L346.14 361.10Z" fill="#ff0000"/>
<path d="M351.43 355.29L353.74 357.60L351.43 359.91L349.12 357.60Z" fill="#ff0000"/>
<path d="M354.27 351.67L356.58 353.98L354.27 356.29L351.96 353.98Z" fill="#ff0000"/>
<path d="M359.14 345.32L361.45 347.63L359.14 349.94L356.83 347.63Z" fill="#ff0000"/>
<path d="M364.00 338.97L366.31 341.28L364.00 343.59L361.69 341.28Z" fill="#ff0000"/>
<path d="M369.04 332.76L371.35 335.07L369.04 337.38L366.73 335.07Z" fill="#ff0000"/>
<path d="M374.42 326.84L376.73 329.15L374.42 331.46L372.11 329.15Z" fill="#ff0000"/>
<path d="M379.96 321.08L382.27 323.39L379.96 325.70L377.65 323.39Z" fill="#ff0000"/>
<path d="M385.97 315.81L388.28 318.12L385.97 320.43L383.66 318.12Z" fill="#ff0000"/>
<path d="M394.05 308.34L396.36 310.65L394.05 312.96L391.74 310.65Z" fill="#ff0000"/>
<path d="M401.84 300.58L404.15 302.89L401.84 305.20L399.53 302.89Z" fill="#ff0000"/>
<path d="M410.32 293.60L412.63 295.91L410.32 298.22L408.01 295.91Z" fill="#ff0000"/>
<path d="M418.67 286.45L420.98 288.76L418.67 291.07L416.36 288.76Z" fill="#ff0000"/>
<path d="M427.15 279.44L429.46 281.75L427.15 284.06L424.84 281.75Z" fill="#ff0000"/>
<path d="M435.89 272.78L438.20 275.09L435.89 277.40L433.58 275.09Z" fill="#ff0000"/>
<path d="M444.30 293.22L446.61 295.53L444.30 297.84L441.99 295.53Z" fill="#ff0000"/>
<path d="M316.50 419.00 L318.91 415.23 L321.79 410.71 L324.68 400.53 L330.52 393.36 L337.68 386.01 L344.90 378.85 L352.12 371.69 L359.40 364.33 L368.61 353.02 L377.21 342.28 L393.28 326.26 L413.19 305.52 L426.19 291.57 L432.69 284.22 L438.28 279.51 L438.71 279.51 L438.71 311.56" fill="none" stroke="#2f80f0" stroke-width="1.35" stroke-linejoin="round"/>
<path d="M316.50 416.63L318.87 420.89L314.13 420.89Z" fill="#00ff00"/>
<path d="M317.85 414.53L320.21 418.78L315.48 418.78Z" fill="#00ff00"/>
<path d="M319.19 412.42L321.56 416.68L316.83 416.68Z" fill="#00ff00"/>
<path d="M320.54 410.31L322.90 414.57L318.17 414.57Z" fill="#00ff00"/>
<path d="M321.84 408.19L324.20 412.44L319.47 412.44Z" fill="#00ff00"/>
<path d="M322.52 405.78L324.89 410.04L320.16 410.04Z" fill="#00ff00"/>
<path d="M323.20 403.38L325.57 407.63L320.84 407.63Z" fill="#00ff00"/>
<path d="M323.89 400.97L326.25 405.23L321.52 405.23Z" fill="#00ff00"/>
<path d="M324.57 398.57L326.93 402.82L322.20 402.82Z" fill="#00ff00"/>
<path d="M326.00 396.55L328.36 400.81L323.63 400.81Z" fill="#00ff00"/>
<path d="M327.58 394.61L329.94 398.87L325.21 398.87Z" fill="#00ff00"/>
<path d="M329.15 392.67L331.52 396.93L326.79 396.93Z" fill="#00ff00"/>
<path d="M330.76 390.76L333.12 395.01L328.39 395.01Z" fill="#00ff00"/>
<path d="M332.50 388.96L334.87 393.22L330.14 393.22Z" fill="#00ff00"/>
<path d="M334.25 387.17L336.61 391.43L331.88 391.43Z" fill="#00ff00"/>
<path d="M335.99 385.38L338.35 389.64L333.62 389.64Z" fill="#00ff00"/>
<path d="M337.73 383.59L340.10 387.85L335.37 387.85Z" fill="#00ff00"/>
<path d="M339.51 381.83L341.87 386.09L337.14 386.09Z" fill="#00ff00"/>
<path d="M341.28 380.07L343.65 384.33L338.92 384.33Z" fill="#00ff00"/>
<path d="M343.06 378.31L345.42 382.57L340.69 382.57Z" fill="#00ff00"/>
<path d="M344.83 376.55L347.20 380.81L342.47 380.81Z" fill="#00ff00"/>
<path d="M346.61 374.79L348.97 379.05L344.24 379.05Z" fill="#00ff00"/>
<path d="M348.38 373.03L350.75 377.29L346.02 377.29Z" fill="#00ff00"/>
<path d="M350.16 371.27L352.52 375.53L347.79 375.53Z" fill="#00ff00"/>
<path d="M355.31 366.10L357.68 370.36L352.95 370.36Z" fill="#00ff00"/>
<path d="M360.34 360.82L362.71 365.07L357.98 365.07Z" fill="#00ff00"/>
<path d="M364.95 355.15L367.31 359.41L362.58 359.41Z" fill="#00ff00"/>
<path d="M369.55 349.48L371.91 353.74L367.18 353.74Z" fill="#00ff00"/>
<path d="M374.11 343.79L376.48 348.04L371.75 348.04Z" fill="#00ff00"/>
<path d="M380.78 336.36L383.15 340.61L378.42 340.61Z" fill="#00ff00"/>
<path d="M387.86 329.29L390.23 333.55L385.50 333.55Z" fill="#00ff00"/>
<path d="M394.91 322.20L397.27 326.45L392.54 326.45Z" fill="#00ff00"/>
<path d="M401.83 314.99L404.20 319.24L399.47 319.24Z" fill="#00ff00"/>
<path d="M408.76 307.77L411.13 312.03L406.40 312.03Z" fill="#00ff00"/>
<path d="M415.65 300.52L418.01 304.78L413.28 304.78Z" fill="#00ff00"/>
<path d="M422.46 293.21L424.83 297.46L420.10 297.46Z" fill="#00ff00"/>
<path d="M429.19 285.81L431.56 290.07L426.83 290.07Z" fill="#00ff00"/>
<path d="M436.30 278.81L438.67 283.07L433.94 283.07Z" fill="#00ff00"/>
<path d="M438.71 309.19L441.07 313.45L436.34 313.45Z" fill="#00ff00"/>
<path d="M316.50 419.00 L323.42 409.57 L329.62 404.86 L334.61 400.72 L344.48 389.78 L353.20 381.68 L365.60 370.56 L392.80 346.43 L398.09 340.77 L409.22 329.65 L420.41 319.10 L432.09 307.97 L444.48 295.53 L449.48 291.76 L449.48 312.12" fill="none" stroke="#1fa56e" stroke-width="1.35" stroke-linejoin="round"/>
<path d="M316.50 421.37L318.87 417.11L314.13 417.11Z" fill="#0000ff"/>
<path d="M319.46 417.33L321.82 413.08L317.09 413.08Z" fill="#0000ff"/>
<path d="M322.42 413.30L324.78 409.05L320.05 409.05Z" fill="#0000ff"/>
<path d="M326.05 409.94L328.42 405.68L323.69 405.68Z" fill="#0000ff"/>
<path d="M330.02 406.89L332.38 402.64L327.65 402.64Z" fill="#0000ff"/>
<path d="M333.87 403.70L336.23 399.44L331.50 399.44Z" fill="#0000ff"/>
<path d="M337.31 400.09L339.68 395.83L334.95 395.83Z" fill="#0000ff"/>
<path d="M340.66 396.38L343.03 392.12L338.30 392.12Z" fill="#0000ff"/>
<path d="M344.01 392.67L346.38 388.41L341.65 388.41Z" fill="#0000ff"/>
<path d="M347.63 389.22L350.00 384.96L345.27 384.96Z" fill="#0000ff"/>
<path d="M351.29 385.82L353.66 381.56L348.93 381.56Z" fill="#0000ff"/>
<path d="M354.99 382.44L357.35 378.19L352.62 378.19Z" fill="#0000ff"/>
<path d="M358.71 379.10L361.07 374.85L356.34 374.85Z" fill="#0000ff"/>
<path d="M362.43 375.76L364.79 371.51L360.06 371.51Z" fill="#0000ff"/>
<path d="M368.40 370.44L370.76 366.18L366.03 366.18Z" fill="#0000ff"/>
<path d="M374.38 365.13L376.75 360.87L372.02 360.87Z" fill="#0000ff"/>
<path d="M380.37 359.82L382.73 355.56L378.00 355.56Z" fill="#0000ff"/>
<path d="M386.35 354.51L388.72 350.25L383.99 350.25Z" fill="#0000ff"/>
<path d="M392.33 349.20L394.70 344.94L389.97 344.94Z" fill="#0000ff"/>
<path d="M397.84 343.40L400.21 339.15L395.48 339.15Z" fill="#0000ff"/>
<path d="M403.49 337.74L405.86 333.48L401.13 333.48Z" fill="#0000ff"/>
<path d="M409.15 332.09L411.52 327.83L406.79 327.83Z" fill="#0000ff"/>
<path d="M414.97 326.59L417.34 322.34L412.61 322.34Z" fill="#0000ff"/>
<path d="M420.79 321.10L423.15 316.85L418.42 316.85Z" fill="#0000ff"/>
<path d="M426.58 315.58L428.95 311.33L424.22 311.33Z" fill="#0000ff"/>
<path d="M432.37 310.06L434.73 305.80L430.00 305.80Z" fill="#0000ff"/>
<path d="M438.01 304.39L440.38 300.13L435.65 300.13Z" fill="#0000ff"/>
<path d="M443.66 298.72L446.02 294.47L441.29 294.47Z" fill="#0000ff"/>
<path d="M449.48 314.49L451.84 310.23L447.11 310.23Z" fill="#0000ff"/>
<path d="M316.50 419.00 L323.42 409.57 L329.62 405.24 L334.61 401.09 L344.48 390.35 L353.20 382.24 L361.93 374.89 L399.29 342.09 L410.49 332.86 L422.22 322.87 L435.88 311.74 L443.28 305.52 L467.71 286.48 L469.69 286.48 L469.69 312.87" fill="none" stroke="#c57cf0" stroke-width="1.35" stroke-linejoin="round"/>
<circle cx="316.50" cy="419.00" r="1.93" fill="#00ffff"/>
<circle cx="319.46" cy="414.97" r="1.93" fill="#00ffff"/>
<circle cx="322.42" cy="410.94" r="1.93" fill="#00ffff"/>
<circle cx="326.13" cy="407.68" r="1.93" fill="#00ffff"/>
<circle cx="330.19" cy="404.76" r="1.93" fill="#00ffff"/>
<circle cx="334.04" cy="401.57" r="1.93" fill="#00ffff"/>
<circle cx="337.49" cy="397.96" r="1.93" fill="#00ffff"/>
<circle cx="340.87" cy="394.28" r="1.93" fill="#00ffff"/>
<circle cx="344.25" cy="390.60" r="1.93" fill="#00ffff"/>
<circle cx="347.90" cy="387.17" r="1.93" fill="#00ffff"/>
<circle cx="351.56" cy="383.77" r="1.93" fill="#00ffff"/>
<circle cx="355.31" cy="380.47" r="1.93" fill="#00ffff"/>
<circle cx="359.13" cy="377.25" r="1.93" fill="#00ffff"/>
<circle cx="362.94" cy="374.00" r="1.93" fill="#00ffff"/>
<circle cx="366.70" cy="370.70" r="1.93" fill="#00ffff"/>
<circle cx="373.46" cy="364.77" r="1.93" fill="#00ffff"/>
<circle cx="380.23" cy="358.83" r="1.93" fill="#00ffff"/>
<circle cx="386.99" cy="352.89" r="1.93" fill="#00ffff"/>
<circle cx="393.75" cy="346.96" r="1.93" fill="#00ffff"/>
<circle cx="400.55" cy="341.06" r="1.93" fill="#00ffff"/>
<circle cx="407.49" cy="335.33" r="1.93" fill="#00ffff"/>
<circle cx="414.38" cy="329.54" r="1.93" fill="#00ffff"/>
<circle cx="421.23" cy="323.70" r="1.93" fill="#00ffff"/>
<circle cx="428.19" cy="318.00" r="1.93" fill="#00ffff"/>
<circle cx="435.17" cy="312.32" r="1.93" fill="#00ffff"/>
<circle cx="442.07" cy="306.54" r="1.93" fill="#00ffff"/>
<circle cx="449.13" cy="300.96" r="1.93" fill="#00ffff"/>
<circle cx="456.23" cy="295.43" r="1.93" fill="#00ffff"/>
<circle cx="463.33" cy="289.89" r="1.93" fill="#00ffff"/>
<circle cx="469.69" cy="312.87" r="1.93" fill="#00ffff"/>
<path d="M316.50 419.00 L317.70 411.46 L319.51 405.43 L322.52 398.26 L325.53 393.55 L330.88 384.13 L340.03 372.82 L349.47 362.45 L358.62 350.76 L376.01 331.72 L379.68 329.84 L389.61 326.26 L395.80 322.49 L403.93 314.76 L420.59 301.75 L429.92 295.34 L437.38 288.75 L445.68 281.39 L447.97 281.02 L447.97 308.35" fill="none" stroke="#f0a020" stroke-width="1.35" stroke-linejoin="round"/>
<path d="M314.13 419.00L318.39 416.63L318.39 421.37Z" fill="#ff00ff"/>
<path d="M314.53 416.53L318.79 414.17L318.79 418.90Z" fill="#ff00ff"/>
<path d="M314.92 414.06L319.18 411.70L319.18 416.43Z" fill="#ff00ff"/>
<path d="M315.32 411.59L319.57 409.23L319.57 413.96Z" fill="#ff00ff"/>
<path d="M316.02 409.19L320.27 406.83L320.27 411.56Z" fill="#ff00ff"/>
<path d="M316.73 406.80L320.99 404.43L320.99 409.16Z" fill="#ff00ff"/>
<path d="M317.56 404.44L321.81 402.08L321.81 406.81Z" fill="#ff00ff"/>
<path d="M318.53 402.14L322.78 399.77L322.78 404.50Z" fill="#ff00ff"/>
<path d="M319.49 399.83L323.75 397.47L323.75 402.20Z" fill="#ff00ff"/>
<path d="M320.58 397.59L324.84 395.23L324.84 399.96Z" fill="#ff00ff"/>
<path d="M321.93 395.48L326.18 393.12L326.18 397.85Z" fill="#ff00ff"/>
<path d="M323.26 393.37L327.52 391.01L327.52 395.74Z" fill="#ff00ff"/>
<path d="M324.50 391.20L328.76 388.83L328.76 393.56Z" fill="#ff00ff"/>
<path d="M325.73 389.02L329.99 386.66L329.99 391.39Z" fill="#ff00ff"/>
<path d="M326.97 386.85L331.23 384.49L331.23 389.22Z" fill="#ff00ff"/>
<path d="M328.20 384.68L332.46 382.31L332.46 387.04Z" fill="#ff00ff"/>
<path d="M329.69 382.67L333.95 380.31L333.95 385.04Z" fill="#ff00ff"/>
<path d="M332.83 378.79L337.09 376.42L337.09 381.15Z" fill="#ff00ff"/>
<path d="M335.98 374.90L340.24 372.53L340.24 377.26Z" fill="#ff00ff"/>
<path d="M339.23 371.10L343.48 368.74L343.48 373.47Z" fill="#ff00ff"/>
<path d="M342.59 367.40L346.85 365.04L346.85 369.77Z" fill="#ff00ff"/>
<path d="M345.96 363.71L350.22 361.34L350.22 366.07Z" fill="#ff00ff"/>
<path d="M349.14 359.85L353.40 357.49L353.40 362.22Z" fill="#ff00ff"/>
<path d="M352.22 355.92L356.48 353.55L356.48 358.28Z" fill="#ff00ff"/>
<path d="M355.30 351.98L359.56 349.61L359.56 354.34Z" fill="#ff00ff"/>
<path d="M358.59 348.21L362.84 345.85L362.84 350.58Z" fill="#ff00ff"/>
<path d="M363.98 342.30L368.24 339.94L368.24 344.67Z" fill="#ff00ff"/>
<path d="M369.38 336.40L373.63 334.03L373.63 338.76Z" fill="#ff00ff"/>
<path d="M375.13 330.96L379.39 328.60L379.39 333.33Z" fill="#ff00ff"/>
<path d="M382.53 327.96L386.79 325.59L386.79 330.32Z" fill="#ff00ff"/>
<path d="M389.80 324.70L394.05 322.34L394.05 327.07Z" fill="#ff00ff"/>
<path d="M396.15 319.91L400.40 317.55L400.40 322.28Z" fill="#ff00ff"/>
<path d="M401.98 314.44L406.23 312.07L406.23 316.80Z" fill="#ff00ff"/>
<path d="M408.28 309.51L412.54 307.15L412.54 311.88Z" fill="#ff00ff"/>
<path d="M414.59 304.59L418.85 302.23L418.85 306.96Z" fill="#ff00ff"/>
<path d="M421.02 299.84L425.28 297.47L425.28 302.20Z" fill="#ff00ff"/>
<path d="M427.61 295.30L431.86 292.93L431.86 297.66Z" fill="#ff00ff"/>
<path d="M433.60 290.00L437.86 287.63L437.86 292.36Z" fill="#ff00ff"/>
<path d="M439.59 284.70L443.85 282.33L443.85 287.06Z" fill="#ff00ff"/>
<path d="M445.61 308.35L449.86 305.99L449.86 310.72Z" fill="#ff00ff"/>
<path d="M316.50 419.00 L317.10 413.35 L317.88 407.69 L319.09 401.09 L321.31 397.32 L325.28 393.74 L331.54 387.33 L336.72 382.43 L345.98 374.14 L349.47 370.37 L358.62 359.62 L374.68 341.15 L387.08 327.39 L394.48 321.17 L395.02 320.23 L395.02 345.49" fill="none" stroke="#22c8d8" stroke-width="1.35" stroke-linejoin="round"/>
<path d="M319.08 419.00L314.44 416.42L314.44 421.58Z" fill="#ffff00"/>
<path d="M319.31 416.81L314.67 414.23L314.67 419.39Z" fill="#ffff00"/>
<path d="M319.55 414.62L314.90 412.04L314.90 417.20Z" fill="#ffff00"/>
<path d="M319.81 412.44L315.16 409.86L315.16 415.02Z" fill="#ffff00"/>
<path d="M320.11 410.26L315.46 407.68L315.46 412.84Z" fill="#ffff00"/>
<path d="M320.41 408.08L315.77 405.50L315.77 410.66Z" fill="#ffff00"/>
<path d="M320.79 405.92L316.14 403.34L316.14 408.50Z" fill="#ffff00"/>
<path d="M321.18 403.75L316.54 401.17L316.54 406.33Z" fill="#ffff00"/>
<path d="M321.58 401.59L316.93 399.01L316.93 404.17Z" fill="#ffff00"/>
<path d="M322.53 399.63L317.89 397.05L317.89 402.21Z" fill="#ffff00"/>
<path d="M323.65 397.74L319.01 395.16L319.01 400.32Z" fill="#ffff00"/>
<path d="M325.17 396.17L320.53 393.59L320.53 398.75Z" fill="#ffff00"/>
<path d="M326.80 394.70L322.16 392.12L322.16 397.28Z" fill="#ffff00"/>
<path d="M328.40 393.19L323.76 390.61L323.76 395.77Z" fill="#ffff00"/>
<path d="M329.94 391.61L325.30 389.03L325.30 394.19Z" fill="#ffff00"/>
<path d="M331.48 390.04L326.83 387.46L326.83 392.62Z" fill="#ffff00"/>
<path d="M333.01 388.47L328.37 385.89L328.37 391.05Z" fill="#ffff00"/>
<path d="M334.57 386.91L329.92 384.33L329.92 389.49Z" fill="#ffff00"/>
<path d="M336.17 385.40L331.52 382.82L331.52 387.98Z" fill="#ffff00"/>
<path d="M337.76 383.88L333.12 381.30L333.12 386.46Z" fill="#ffff00"/>
<path d="M339.36 382.37L334.72 379.79L334.72 384.95Z" fill="#ffff00"/>
<path d="M341.00 380.91L336.36 378.33L336.36 383.49Z" fill="#ffff00"/>
<path d="M342.64 379.44L338.00 376.86L338.00 382.02Z" fill="#ffff00"/>
<path d="M344.28 377.97L339.64 375.39L339.64 380.55Z" fill="#ffff00"/>
<path d="M345.92 376.50L341.28 373.92L341.28 379.08Z" fill="#ffff00"/>
<path d="M347.56 375.04L342.91 372.46L342.91 377.62Z" fill="#ffff00"/>
<path d="M352.39 369.98L347.74 367.40L347.74 372.56Z" fill="#ffff00"/>
<path d="M356.92 364.65L352.28 362.07L352.28 367.23Z" fill="#ffff00"/>
<path d="M361.46 359.32L356.82 356.74L356.82 361.90Z" fill="#ffff00"/>
<path d="M366.06 354.04L361.41 351.46L361.41 356.62Z" fill="#ffff00"/>
<path d="M370.65 348.75L366.01 346.17L366.01 351.33Z" fill="#ffff00"/>
<path d="M375.24 343.47L370.60 340.89L370.60 346.05Z" fill="#ffff00"/>
<path d="M379.89 338.23L375.25 335.65L375.25 340.81Z" fill="#ffff00"/>
<path d="M384.57 333.03L379.93 330.45L379.93 335.61Z" fill="#ffff00"/>
<path d="M389.26 327.83L384.62 325.25L384.62 330.41Z" fill="#ffff00"/>
<path d="M394.56 323.27L389.92 320.69L389.92 325.85Z" fill="#ffff00"/>
<path d="M397.60 345.49L392.96 342.91L392.96 348.06Z" fill="#ffff00"/>
<rect x="37.70" y="13.38" width="213.33" height="164.12" fill="none" stroke="#4a4a4a" stroke-width="1.6"/>
<rect x="179.10" y="107.90" width="68.60" height="63.50" fill="#fff" stroke="#8c8c8c" stroke-width="1"/>
<line x1="180.30" y1="114.90" x2="203.90" y2="114.90" stroke="#c57cf0" stroke-width="1.6"/>
<circle cx="192.00" cy="114.90" r="1.84" fill="#00ffff"/>
<text x="205.60" y="118.40" font-size="10.4">PC</text>
<line x1="180.30" y1="127.30" x2="203.90" y2="127.30" stroke="#000" stroke-width="1.6"/>
<rect x="190.37" y="125.67" width="3.26" height="3.26" fill="#000"/>
<text x="205.60" y="130.80" font-size="10.4">MHI-0.25</text>
<line x1="180.30" y1="139.70" x2="203.90" y2="139.70" stroke="#ff0000" stroke-width="1.6"/>
<path d="M192.00 137.49L194.21 139.70L192.00 141.91L189.79 139.70Z" fill="#ff0000"/>
<text x="205.60" y="143.20" font-size="10.4">MHI-0.5</text>
<line x1="180.30" y1="152.10" x2="203.90" y2="152.10" stroke="#2f80f0" stroke-width="1.6"/>
<path d="M192.00 149.84L194.26 153.91L189.74 153.91Z" fill="#00ff00"/>
<text x="205.60" y="155.60" font-size="10.4">MCI-0.25</text>
<line x1="180.30" y1="164.50" x2="203.90" y2="164.50" stroke="#1fa56e" stroke-width="1.6"/>
<path d="M192.00 166.76L194.26 162.69L189.74 162.69Z" fill="#0000ff"/>
<text x="205.60" y="168.00" font-size="10.4">MCI-0.5</text>
<text x="37.70" y="192.30" text-anchor="middle" font-size="14">0</text>
<text x="77.70" y="192.30" text-anchor="middle" font-size="14">30</text>
<text x="117.70" y="192.30" text-anchor="middle" font-size="14">60</text>
<text x="157.70" y="192.30" text-anchor="middle" font-size="14">90</text>
<text x="197.70" y="192.30" text-anchor="middle" font-size="14">120</text>
<text x="237.70" y="192.30" text-anchor="middle" font-size="14">150</text>
<text x="34.00" y="182.20" text-anchor="end" font-size="14">0</text>
<text x="34.00" y="156.95" text-anchor="end" font-size="14">1</text>
<text x="34.00" y="131.70" text-anchor="end" font-size="14">2</text>
<text x="34.00" y="106.45" text-anchor="end" font-size="14">3</text>
<text x="34.00" y="81.20" text-anchor="end" font-size="14">4</text>
<text x="34.00" y="55.95" text-anchor="end" font-size="14">5</text>
<text x="34.00" y="30.70" text-anchor="end" font-size="14">6</text>
<text x="138.40" y="209.00" text-anchor="middle" font-size="14">Strain(με)</text>
<text transform="translate(15.70 93.50) rotate(-90)" x="0" y="0" text-anchor="middle" font-size="14">Stress(MPa)</text>
<rect x="308.70" y="15.99" width="220.62" height="161.21" fill="none" stroke="#4a4a4a" stroke-width="1.6"/>
<rect x="464.10" y="109.10" width="62.30" height="62.80" fill="#fff" stroke="#8c8c8c" stroke-width="1"/>
<line x1="465.70" y1="115.70" x2="488.00" y2="115.70" stroke="#c57cf0" stroke-width="1.6"/>
<circle cx="476.80" cy="115.70" r="1.84" fill="#00ffff"/>
<text x="490.50" y="119.20" font-size="10.4">PC</text>
<line x1="465.70" y1="128.10" x2="488.00" y2="128.10" stroke="#000" stroke-width="1.6"/>
<rect x="475.17" y="126.47" width="3.26" height="3.26" fill="#000"/>
<text x="490.50" y="131.60" font-size="10.4">M5-0.25</text>
<line x1="465.70" y1="140.30" x2="488.00" y2="140.30" stroke="#ff0000" stroke-width="1.6"/>
<path d="M476.80 138.09L479.00 140.30L476.80 142.51L474.60 140.30Z" fill="#ff0000"/>
<text x="490.50" y="143.80" font-size="10.4">M5-0.5</text>
<line x1="465.70" y1="152.60" x2="488.00" y2="152.60" stroke="#2f80f0" stroke-width="1.6"/>
<path d="M476.80 150.34L479.06 154.41L474.54 154.41Z" fill="#00ff00"/>
<text x="490.50" y="156.10" font-size="10.4">IM-0.25</text>
<line x1="465.70" y1="164.70" x2="488.00" y2="164.70" stroke="#1fa56e" stroke-width="1.6"/>
<path d="M476.80 166.96L479.06 162.89L474.54 162.89Z" fill="#0000ff"/>
<text x="490.50" y="168.20" font-size="10.4">IM-0.5</text>
<text x="308.70" y="192.00" text-anchor="middle" font-size="14">0</text>
<text x="345.47" y="192.00" text-anchor="middle" font-size="14">30</text>
<text x="382.24" y="192.00" text-anchor="middle" font-size="14">60</text>
<text x="419.01" y="192.00" text-anchor="middle" font-size="14">90</text>
<text x="455.78" y="192.00" text-anchor="middle" font-size="14">120</text>
<text x="492.55" y="192.00" text-anchor="middle" font-size="14">150</text>
<text x="529.32" y="192.00" text-anchor="middle" font-size="14">180</text>
<text x="304.30" y="181.90" text-anchor="end" font-size="14">0</text>
<text x="304.30" y="158.87" text-anchor="end" font-size="14">1</text>
<text x="304.30" y="135.84" text-anchor="end" font-size="14">2</text>
<text x="304.30" y="112.81" text-anchor="end" font-size="14">3</text>
<text x="304.30" y="89.78" text-anchor="end" font-size="14">4</text>
<text x="304.30" y="66.75" text-anchor="end" font-size="14">5</text>
<text x="304.30" y="43.72" text-anchor="end" font-size="14">6</text>
<text x="304.30" y="20.69" text-anchor="end" font-size="14">7</text>
<text x="410.80" y="208.50" text-anchor="middle" font-size="14">Strain(με)</text>
<text transform="translate(290.10 104.40) rotate(-90)" x="0" y="0" text-anchor="middle" font-size="14">Stress(MPa)</text>
<rect x="44.10" y="254.00" width="204.67" height="164.50" fill="none" stroke="#4a4a4a" stroke-width="1.6"/>
<rect x="166.60" y="348.30" width="79.80" height="64.50" fill="#fff" stroke="#8c8c8c" stroke-width="1"/>
<line x1="168.30" y1="355.70" x2="190.60" y2="355.70" stroke="#c57cf0" stroke-width="1.6"/>
<circle cx="179.50" cy="355.70" r="1.84" fill="#00ffff"/>
<text x="193.10" y="359.20" font-size="10.4">PC</text>
<line x1="168.30" y1="368.10" x2="190.60" y2="368.10" stroke="#000" stroke-width="1.6"/>
<rect x="177.87" y="366.47" width="3.26" height="3.26" fill="#000"/>
<text x="193.10" y="371.60" font-size="10.4">CNF19-0.25</text>
<line x1="168.30" y1="380.60" x2="190.60" y2="380.60" stroke="#ff0000" stroke-width="1.6"/>
<path d="M179.50 378.40L181.71 380.60L179.50 382.81L177.29 380.60Z" fill="#ff0000"/>
<text x="193.10" y="384.10" font-size="10.4">CNF19-0.5</text>
<line x1="168.30" y1="393.10" x2="190.60" y2="393.10" stroke="#2f80f0" stroke-width="1.6"/>
<path d="M179.50 390.84L181.76 394.91L177.24 394.91Z" fill="#00ff00"/>
<text x="193.10" y="396.60" font-size="10.4">CNF24-0.25</text>
<line x1="168.30" y1="405.70" x2="190.60" y2="405.70" stroke="#1fa56e" stroke-width="1.6"/>
<path d="M179.50 407.96L181.76 403.89L177.24 403.89Z" fill="#0000ff"/>
<text x="193.10" y="409.20" font-size="10.4">CNF24-0.5</text>
<text x="44.10" y="433.30" text-anchor="middle" font-size="14">0</text>
<text x="74.80" y="433.30" text-anchor="middle" font-size="14">30</text>
<text x="105.50" y="433.30" text-anchor="middle" font-size="14">60</text>
<text x="136.20" y="433.30" text-anchor="middle" font-size="14">90</text>
<text x="166.90" y="433.30" text-anchor="middle" font-size="14">120</text>
<text x="197.60" y="433.30" text-anchor="middle" font-size="14">150</text>
<text x="228.30" y="433.30" text-anchor="middle" font-size="14">180</text>
<text x="40.30" y="423.20" text-anchor="end" font-size="14">0</text>
<text x="40.30" y="399.70" text-anchor="end" font-size="14">1</text>
<text x="40.30" y="376.20" text-anchor="end" font-size="14">2</text>
<text x="40.30" y="352.70" text-anchor="end" font-size="14">3</text>
<text x="40.30" y="329.20" text-anchor="end" font-size="14">4</text>
<text x="40.30" y="305.70" text-anchor="end" font-size="14">5</text>
<text x="40.30" y="282.20" text-anchor="end" font-size="14">6</text>
<text x="40.30" y="258.70" text-anchor="end" font-size="14">7</text>
<text x="140.10" y="449.00" text-anchor="middle" font-size="14">Strain(με)</text>
<text transform="translate(25.10 338.90) rotate(-90)" x="0" y="0" text-anchor="middle" font-size="14">Stress(MPa)</text>
<rect x="316.50" y="249.35" width="210.60" height="169.65" fill="none" stroke="#4a4a4a" stroke-width="1.6"/>
<rect x="460.20" y="321.50" width="63.40" height="91.10" fill="#fff" stroke="#8c8c8c" stroke-width="1"/>
<line x1="461.10" y1="328.60" x2="484.70" y2="328.60" stroke="#22c8d8" stroke-width="1.6"/>
<path d="M474.96 328.60L470.89 326.34L470.89 330.86Z" fill="#ffff00"/>
<text x="487.50" y="332.10" font-size="10.4">PC</text>
<line x1="461.10" y1="341.30" x2="484.70" y2="341.30" stroke="#000" stroke-width="1.6"/>
<rect x="471.07" y="339.67" width="3.26" height="3.26" fill="#000"/>
<text x="487.50" y="344.80" font-size="10.4">CF3-0.5</text>
<line x1="461.10" y1="354.10" x2="484.70" y2="354.10" stroke="#ff0000" stroke-width="1.6"/>
<path d="M472.70 351.90L474.90 354.10L472.70 356.31L470.50 354.10Z" fill="#ff0000"/>
<text x="487.50" y="357.60" font-size="10.4">CF3-1.0</text>
<line x1="461.10" y1="366.80" x2="484.70" y2="366.80" stroke="#2f80f0" stroke-width="1.6"/>
<path d="M472.70 364.54L474.96 368.61L470.44 368.61Z" fill="#00ff00"/>
<text x="487.50" y="370.30" font-size="10.4">CF3-1.5</text>
<line x1="461.10" y1="379.60" x2="484.70" y2="379.60" stroke="#1fa56e" stroke-width="1.6"/>
<path d="M472.70 381.86L474.96 377.79L470.44 377.79Z" fill="#0000ff"/>
<text x="487.50" y="383.10" font-size="10.4">CF6-0.5</text>
<line x1="461.10" y1="392.30" x2="484.70" y2="392.30" stroke="#c57cf0" stroke-width="1.6"/>
<circle cx="472.70" cy="392.30" r="1.84" fill="#00ffff"/>
<text x="487.50" y="395.80" font-size="10.4">CF6-1.0</text>
<line x1="461.10" y1="405.10" x2="484.70" y2="405.10" stroke="#f0a020" stroke-width="1.6"/>
<path d="M470.44 405.10L474.51 402.84L474.51 407.36Z" fill="#ff00ff"/>
<text x="487.50" y="408.60" font-size="10.4">CF6-1.5</text>
<text x="316.50" y="433.00" text-anchor="middle" font-size="14">0</text>
<text x="352.60" y="433.00" text-anchor="middle" font-size="14">60</text>
<text x="388.70" y="433.00" text-anchor="middle" font-size="14">120</text>
<text x="424.81" y="433.00" text-anchor="middle" font-size="14">180</text>
<text x="460.91" y="433.00" text-anchor="middle" font-size="14">240</text>
<text x="497.01" y="433.00" text-anchor="middle" font-size="14">300</text>
<text x="313.00" y="423.70" text-anchor="end" font-size="14">0</text>
<text x="313.00" y="386.00" text-anchor="end" font-size="14">2</text>
<text x="313.00" y="348.30" text-anchor="end" font-size="14">4</text>
<text x="313.00" y="310.60" text-anchor="end" font-size="14">6</text>
<text x="313.00" y="272.90" text-anchor="end" font-size="14">8</text>
<text x="423.40" y="448.60" text-anchor="middle" font-size="14.6">Strain(με)</text>
<text transform="translate(299.90 345.10) rotate(-90)" x="0" y="0" text-anchor="middle" font-size="14.6">Stress(MPa)</text>
<text x="210.6" y="236.2" font-size="13.5" letter-spacing="0.4">(<tspan font-weight="bold">a</tspan>) CRCC with CNTs</text>
<text x="71.5" y="476.0" font-size="13.5" letter-spacing="0.4">(<tspan font-weight="bold">b</tspan>) CRCC with CNFs</text>
<text x="352.3" y="476.3" font-size="13.5" letter-spacing="0.4">(<tspan font-weight="bold">c</tspan>) CRCC with <tspan font-size="15.5">CFs</tspan></text>
</svg>
</body></html>
